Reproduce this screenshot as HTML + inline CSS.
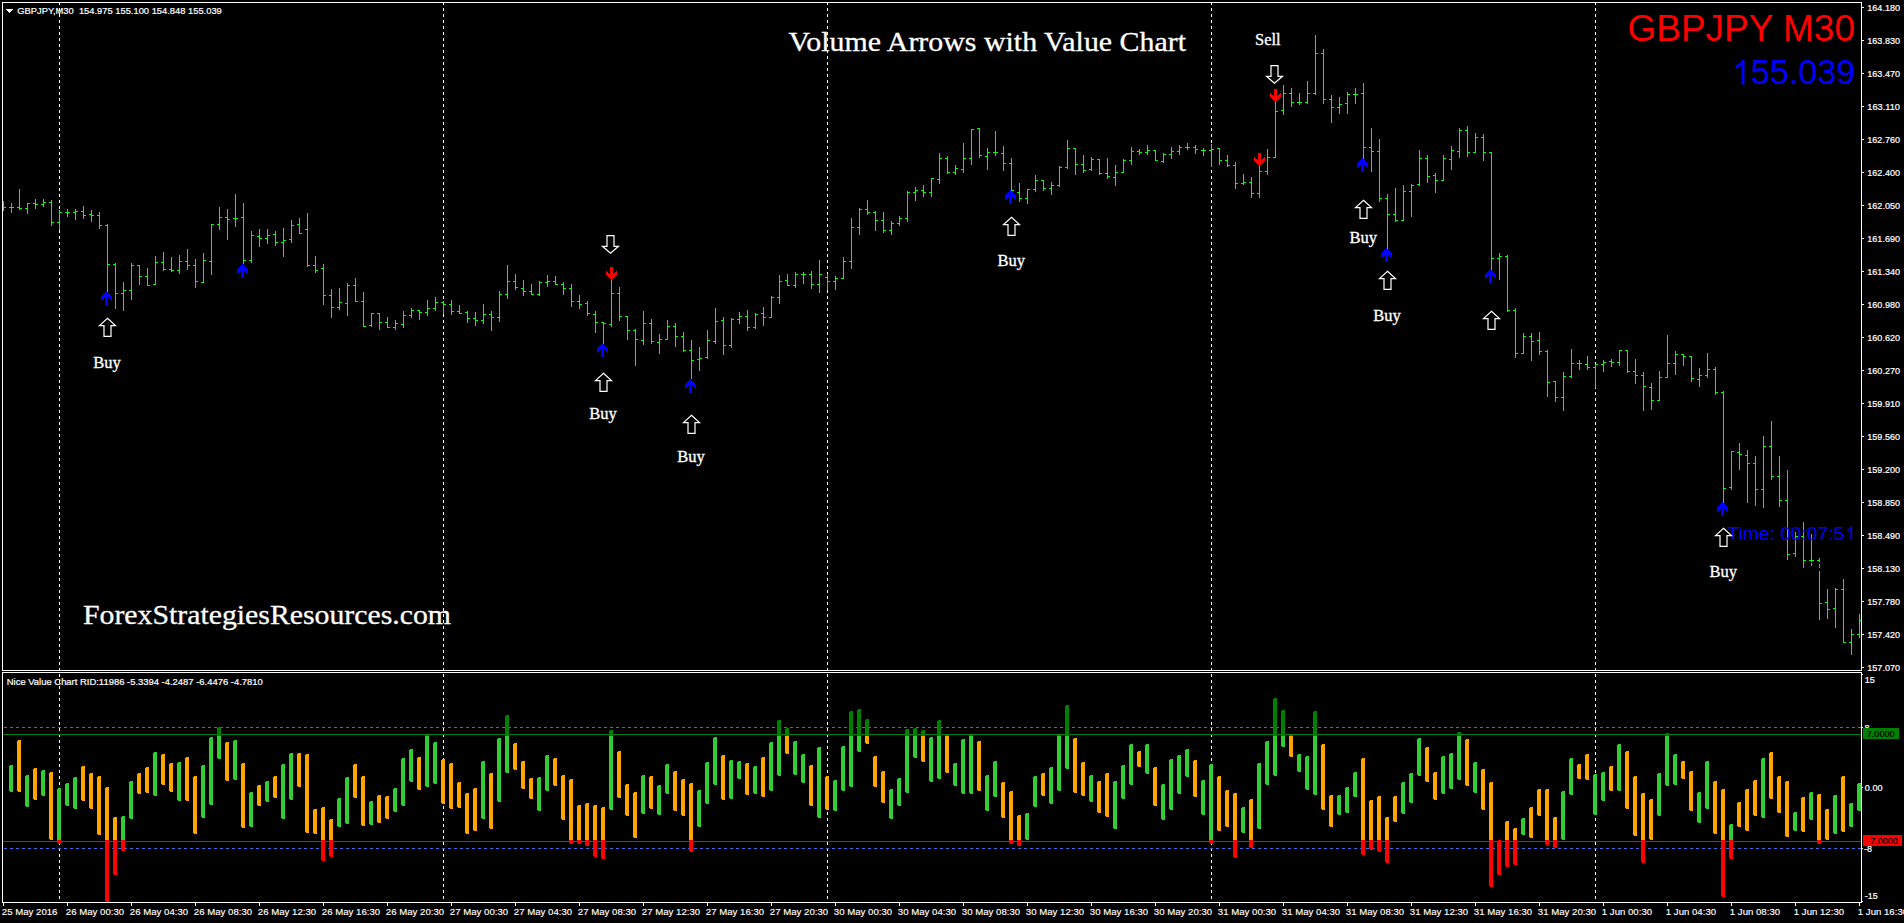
<!DOCTYPE html><html><head><meta charset="utf-8"><title>GBPJPY M30</title><style>
html,body{margin:0;padding:0;background:#000;overflow:hidden}svg{display:block}
text{font-family:"Liberation Sans",sans-serif;fill:#fff}.s{font-family:"Liberation Serif",serif;stroke:#fff;stroke-width:.3px}.t{font-size:9.9px;stroke:#fff;stroke-width:.22px}.k{fill:#000;stroke:#000}
</style></head><body>
<svg width="1904" height="923" viewBox="0 0 1904 923">
<rect width="1904" height="923" fill="#000"/>
<text x="1855" y="41.2" text-anchor="end" font-size="37.8px" style="fill:#f00" textLength="227.5" lengthAdjust="spacingAndGlyphs">GBPJPY M30</text>
<path transform="translate(1731.77 84.4) scale(0.01670 -0.01670)" d="M763 0H583V1147Q518 1085 412.5 1023Q307 961 223 930V1104Q374 1175 487 1276Q600 1377 647 1472H763Z" fill="#00f"/>
<text x="1750.78" y="84.4" font-size="34.2px" style="fill:#00f">55.039</text>
<g shape-rendering="crispEdges">
<path d="M59 2h1v3h-1zM59 8h1v3h-1zM59 14h1v3h-1zM59 20h1v3h-1zM59 26h1v3h-1zM59 32h1v3h-1zM59 38h1v3h-1zM59 44h1v3h-1zM59 50h1v3h-1zM59 56h1v3h-1zM59 62h1v3h-1zM59 68h1v3h-1zM59 74h1v3h-1zM59 80h1v3h-1zM59 86h1v3h-1zM59 92h1v3h-1zM59 98h1v3h-1zM59 104h1v3h-1zM59 110h1v3h-1zM59 116h1v3h-1zM59 122h1v3h-1zM59 128h1v3h-1zM59 134h1v3h-1zM59 140h1v3h-1zM59 146h1v3h-1zM59 152h1v3h-1zM59 158h1v3h-1zM59 164h1v3h-1zM59 170h1v3h-1zM59 176h1v3h-1zM59 182h1v3h-1zM59 188h1v3h-1zM59 194h1v3h-1zM59 200h1v3h-1zM59 206h1v3h-1zM59 212h1v3h-1zM59 218h1v3h-1zM59 224h1v3h-1zM59 230h1v3h-1zM59 236h1v3h-1zM59 242h1v3h-1zM59 248h1v3h-1zM59 254h1v3h-1zM59 260h1v3h-1zM59 266h1v3h-1zM59 272h1v3h-1zM59 278h1v3h-1zM59 284h1v3h-1zM59 290h1v3h-1zM59 296h1v3h-1zM59 302h1v3h-1zM59 308h1v3h-1zM59 314h1v3h-1zM59 320h1v3h-1zM59 326h1v3h-1zM59 332h1v3h-1zM59 338h1v3h-1zM59 344h1v3h-1zM59 350h1v3h-1zM59 356h1v3h-1zM59 362h1v3h-1zM59 368h1v3h-1zM59 374h1v3h-1zM59 380h1v3h-1zM59 386h1v3h-1zM59 392h1v3h-1zM59 398h1v3h-1zM59 404h1v3h-1zM59 410h1v3h-1zM59 416h1v3h-1zM59 422h1v3h-1zM59 428h1v3h-1zM59 434h1v3h-1zM59 440h1v3h-1zM59 446h1v3h-1zM59 452h1v3h-1zM59 458h1v3h-1zM59 464h1v3h-1zM59 470h1v3h-1zM59 476h1v3h-1zM59 482h1v3h-1zM59 488h1v3h-1zM59 494h1v3h-1zM59 500h1v3h-1zM59 506h1v3h-1zM59 512h1v3h-1zM59 518h1v3h-1zM59 524h1v3h-1zM59 530h1v3h-1zM59 536h1v3h-1zM59 542h1v3h-1zM59 548h1v3h-1zM59 554h1v3h-1zM59 560h1v3h-1zM59 566h1v3h-1zM59 572h1v3h-1zM59 578h1v3h-1zM59 584h1v3h-1zM59 590h1v3h-1zM59 596h1v3h-1zM59 602h1v3h-1zM59 608h1v3h-1zM59 614h1v3h-1zM59 620h1v3h-1zM59 626h1v3h-1zM59 632h1v3h-1zM59 638h1v3h-1zM59 644h1v3h-1zM59 650h1v3h-1zM59 656h1v3h-1zM59 662h1v3h-1zM59 668h1v3h-1zM59 674h1v3h-1zM59 680h1v3h-1zM59 686h1v3h-1zM59 692h1v3h-1zM59 698h1v3h-1zM59 704h1v3h-1zM59 710h1v3h-1zM59 716h1v3h-1zM59 722h1v3h-1zM59 728h1v3h-1zM59 734h1v3h-1zM59 740h1v3h-1zM59 746h1v3h-1zM59 752h1v3h-1zM59 758h1v3h-1zM59 764h1v3h-1zM59 770h1v3h-1zM59 776h1v3h-1zM59 782h1v3h-1zM59 788h1v3h-1zM59 794h1v3h-1zM59 800h1v3h-1zM59 806h1v3h-1zM59 812h1v3h-1zM59 818h1v3h-1zM59 824h1v3h-1zM59 830h1v3h-1zM59 836h1v3h-1zM59 842h1v3h-1zM59 848h1v3h-1zM59 854h1v3h-1zM59 860h1v3h-1zM59 866h1v3h-1zM59 872h1v3h-1zM59 878h1v3h-1zM59 884h1v3h-1zM59 890h1v3h-1zM59 896h1v3h-1zM443 2h1v3h-1zM443 8h1v3h-1zM443 14h1v3h-1zM443 20h1v3h-1zM443 26h1v3h-1zM443 32h1v3h-1zM443 38h1v3h-1zM443 44h1v3h-1zM443 50h1v3h-1zM443 56h1v3h-1zM443 62h1v3h-1zM443 68h1v3h-1zM443 74h1v3h-1zM443 80h1v3h-1zM443 86h1v3h-1zM443 92h1v3h-1zM443 98h1v3h-1zM443 104h1v3h-1zM443 110h1v3h-1zM443 116h1v3h-1zM443 122h1v3h-1zM443 128h1v3h-1zM443 134h1v3h-1zM443 140h1v3h-1zM443 146h1v3h-1zM443 152h1v3h-1zM443 158h1v3h-1zM443 164h1v3h-1zM443 170h1v3h-1zM443 176h1v3h-1zM443 182h1v3h-1zM443 188h1v3h-1zM443 194h1v3h-1zM443 200h1v3h-1zM443 206h1v3h-1zM443 212h1v3h-1zM443 218h1v3h-1zM443 224h1v3h-1zM443 230h1v3h-1zM443 236h1v3h-1zM443 242h1v3h-1zM443 248h1v3h-1zM443 254h1v3h-1zM443 260h1v3h-1zM443 266h1v3h-1zM443 272h1v3h-1zM443 278h1v3h-1zM443 284h1v3h-1zM443 290h1v3h-1zM443 296h1v3h-1zM443 302h1v3h-1zM443 308h1v3h-1zM443 314h1v3h-1zM443 320h1v3h-1zM443 326h1v3h-1zM443 332h1v3h-1zM443 338h1v3h-1zM443 344h1v3h-1zM443 350h1v3h-1zM443 356h1v3h-1zM443 362h1v3h-1zM443 368h1v3h-1zM443 374h1v3h-1zM443 380h1v3h-1zM443 386h1v3h-1zM443 392h1v3h-1zM443 398h1v3h-1zM443 404h1v3h-1zM443 410h1v3h-1zM443 416h1v3h-1zM443 422h1v3h-1zM443 428h1v3h-1zM443 434h1v3h-1zM443 440h1v3h-1zM443 446h1v3h-1zM443 452h1v3h-1zM443 458h1v3h-1zM443 464h1v3h-1zM443 470h1v3h-1zM443 476h1v3h-1zM443 482h1v3h-1zM443 488h1v3h-1zM443 494h1v3h-1zM443 500h1v3h-1zM443 506h1v3h-1zM443 512h1v3h-1zM443 518h1v3h-1zM443 524h1v3h-1zM443 530h1v3h-1zM443 536h1v3h-1zM443 542h1v3h-1zM443 548h1v3h-1zM443 554h1v3h-1zM443 560h1v3h-1zM443 566h1v3h-1zM443 572h1v3h-1zM443 578h1v3h-1zM443 584h1v3h-1zM443 590h1v3h-1zM443 596h1v3h-1zM443 602h1v3h-1zM443 608h1v3h-1zM443 614h1v3h-1zM443 620h1v3h-1zM443 626h1v3h-1zM443 632h1v3h-1zM443 638h1v3h-1zM443 644h1v3h-1zM443 650h1v3h-1zM443 656h1v3h-1zM443 662h1v3h-1zM443 668h1v3h-1zM443 674h1v3h-1zM443 680h1v3h-1zM443 686h1v3h-1zM443 692h1v3h-1zM443 698h1v3h-1zM443 704h1v3h-1zM443 710h1v3h-1zM443 716h1v3h-1zM443 722h1v3h-1zM443 728h1v3h-1zM443 734h1v3h-1zM443 740h1v3h-1zM443 746h1v3h-1zM443 752h1v3h-1zM443 758h1v3h-1zM443 764h1v3h-1zM443 770h1v3h-1zM443 776h1v3h-1zM443 782h1v3h-1zM443 788h1v3h-1zM443 794h1v3h-1zM443 800h1v3h-1zM443 806h1v3h-1zM443 812h1v3h-1zM443 818h1v3h-1zM443 824h1v3h-1zM443 830h1v3h-1zM443 836h1v3h-1zM443 842h1v3h-1zM443 848h1v3h-1zM443 854h1v3h-1zM443 860h1v3h-1zM443 866h1v3h-1zM443 872h1v3h-1zM443 878h1v3h-1zM443 884h1v3h-1zM443 890h1v3h-1zM443 896h1v3h-1zM827 2h1v3h-1zM827 8h1v3h-1zM827 14h1v3h-1zM827 20h1v3h-1zM827 26h1v3h-1zM827 32h1v3h-1zM827 38h1v3h-1zM827 44h1v3h-1zM827 50h1v3h-1zM827 56h1v3h-1zM827 62h1v3h-1zM827 68h1v3h-1zM827 74h1v3h-1zM827 80h1v3h-1zM827 86h1v3h-1zM827 92h1v3h-1zM827 98h1v3h-1zM827 104h1v3h-1zM827 110h1v3h-1zM827 116h1v3h-1zM827 122h1v3h-1zM827 128h1v3h-1zM827 134h1v3h-1zM827 140h1v3h-1zM827 146h1v3h-1zM827 152h1v3h-1zM827 158h1v3h-1zM827 164h1v3h-1zM827 170h1v3h-1zM827 176h1v3h-1zM827 182h1v3h-1zM827 188h1v3h-1zM827 194h1v3h-1zM827 200h1v3h-1zM827 206h1v3h-1zM827 212h1v3h-1zM827 218h1v3h-1zM827 224h1v3h-1zM827 230h1v3h-1zM827 236h1v3h-1zM827 242h1v3h-1zM827 248h1v3h-1zM827 254h1v3h-1zM827 260h1v3h-1zM827 266h1v3h-1zM827 272h1v3h-1zM827 278h1v3h-1zM827 284h1v3h-1zM827 290h1v3h-1zM827 296h1v3h-1zM827 302h1v3h-1zM827 308h1v3h-1zM827 314h1v3h-1zM827 320h1v3h-1zM827 326h1v3h-1zM827 332h1v3h-1zM827 338h1v3h-1zM827 344h1v3h-1zM827 350h1v3h-1zM827 356h1v3h-1zM827 362h1v3h-1zM827 368h1v3h-1zM827 374h1v3h-1zM827 380h1v3h-1zM827 386h1v3h-1zM827 392h1v3h-1zM827 398h1v3h-1zM827 404h1v3h-1zM827 410h1v3h-1zM827 416h1v3h-1zM827 422h1v3h-1zM827 428h1v3h-1zM827 434h1v3h-1zM827 440h1v3h-1zM827 446h1v3h-1zM827 452h1v3h-1zM827 458h1v3h-1zM827 464h1v3h-1zM827 470h1v3h-1zM827 476h1v3h-1zM827 482h1v3h-1zM827 488h1v3h-1zM827 494h1v3h-1zM827 500h1v3h-1zM827 506h1v3h-1zM827 512h1v3h-1zM827 518h1v3h-1zM827 524h1v3h-1zM827 530h1v3h-1zM827 536h1v3h-1zM827 542h1v3h-1zM827 548h1v3h-1zM827 554h1v3h-1zM827 560h1v3h-1zM827 566h1v3h-1zM827 572h1v3h-1zM827 578h1v3h-1zM827 584h1v3h-1zM827 590h1v3h-1zM827 596h1v3h-1zM827 602h1v3h-1zM827 608h1v3h-1zM827 614h1v3h-1zM827 620h1v3h-1zM827 626h1v3h-1zM827 632h1v3h-1zM827 638h1v3h-1zM827 644h1v3h-1zM827 650h1v3h-1zM827 656h1v3h-1zM827 662h1v3h-1zM827 668h1v3h-1zM827 674h1v3h-1zM827 680h1v3h-1zM827 686h1v3h-1zM827 692h1v3h-1zM827 698h1v3h-1zM827 704h1v3h-1zM827 710h1v3h-1zM827 716h1v3h-1zM827 722h1v3h-1zM827 728h1v3h-1zM827 734h1v3h-1zM827 740h1v3h-1zM827 746h1v3h-1zM827 752h1v3h-1zM827 758h1v3h-1zM827 764h1v3h-1zM827 770h1v3h-1zM827 776h1v3h-1zM827 782h1v3h-1zM827 788h1v3h-1zM827 794h1v3h-1zM827 800h1v3h-1zM827 806h1v3h-1zM827 812h1v3h-1zM827 818h1v3h-1zM827 824h1v3h-1zM827 830h1v3h-1zM827 836h1v3h-1zM827 842h1v3h-1zM827 848h1v3h-1zM827 854h1v3h-1zM827 860h1v3h-1zM827 866h1v3h-1zM827 872h1v3h-1zM827 878h1v3h-1zM827 884h1v3h-1zM827 890h1v3h-1zM827 896h1v3h-1zM1211 2h1v3h-1zM1211 8h1v3h-1zM1211 14h1v3h-1zM1211 20h1v3h-1zM1211 26h1v3h-1zM1211 32h1v3h-1zM1211 38h1v3h-1zM1211 44h1v3h-1zM1211 50h1v3h-1zM1211 56h1v3h-1zM1211 62h1v3h-1zM1211 68h1v3h-1zM1211 74h1v3h-1zM1211 80h1v3h-1zM1211 86h1v3h-1zM1211 92h1v3h-1zM1211 98h1v3h-1zM1211 104h1v3h-1zM1211 110h1v3h-1zM1211 116h1v3h-1zM1211 122h1v3h-1zM1211 128h1v3h-1zM1211 134h1v3h-1zM1211 140h1v3h-1zM1211 146h1v3h-1zM1211 152h1v3h-1zM1211 158h1v3h-1zM1211 164h1v3h-1zM1211 170h1v3h-1zM1211 176h1v3h-1zM1211 182h1v3h-1zM1211 188h1v3h-1zM1211 194h1v3h-1zM1211 200h1v3h-1zM1211 206h1v3h-1zM1211 212h1v3h-1zM1211 218h1v3h-1zM1211 224h1v3h-1zM1211 230h1v3h-1zM1211 236h1v3h-1zM1211 242h1v3h-1zM1211 248h1v3h-1zM1211 254h1v3h-1zM1211 260h1v3h-1zM1211 266h1v3h-1zM1211 272h1v3h-1zM1211 278h1v3h-1zM1211 284h1v3h-1zM1211 290h1v3h-1zM1211 296h1v3h-1zM1211 302h1v3h-1zM1211 308h1v3h-1zM1211 314h1v3h-1zM1211 320h1v3h-1zM1211 326h1v3h-1zM1211 332h1v3h-1zM1211 338h1v3h-1zM1211 344h1v3h-1zM1211 350h1v3h-1zM1211 356h1v3h-1zM1211 362h1v3h-1zM1211 368h1v3h-1zM1211 374h1v3h-1zM1211 380h1v3h-1zM1211 386h1v3h-1zM1211 392h1v3h-1zM1211 398h1v3h-1zM1211 404h1v3h-1zM1211 410h1v3h-1zM1211 416h1v3h-1zM1211 422h1v3h-1zM1211 428h1v3h-1zM1211 434h1v3h-1zM1211 440h1v3h-1zM1211 446h1v3h-1zM1211 452h1v3h-1zM1211 458h1v3h-1zM1211 464h1v3h-1zM1211 470h1v3h-1zM1211 476h1v3h-1zM1211 482h1v3h-1zM1211 488h1v3h-1zM1211 494h1v3h-1zM1211 500h1v3h-1zM1211 506h1v3h-1zM1211 512h1v3h-1zM1211 518h1v3h-1zM1211 524h1v3h-1zM1211 530h1v3h-1zM1211 536h1v3h-1zM1211 542h1v3h-1zM1211 548h1v3h-1zM1211 554h1v3h-1zM1211 560h1v3h-1zM1211 566h1v3h-1zM1211 572h1v3h-1zM1211 578h1v3h-1zM1211 584h1v3h-1zM1211 590h1v3h-1zM1211 596h1v3h-1zM1211 602h1v3h-1zM1211 608h1v3h-1zM1211 614h1v3h-1zM1211 620h1v3h-1zM1211 626h1v3h-1zM1211 632h1v3h-1zM1211 638h1v3h-1zM1211 644h1v3h-1zM1211 650h1v3h-1zM1211 656h1v3h-1zM1211 662h1v3h-1zM1211 668h1v3h-1zM1211 674h1v3h-1zM1211 680h1v3h-1zM1211 686h1v3h-1zM1211 692h1v3h-1zM1211 698h1v3h-1zM1211 704h1v3h-1zM1211 710h1v3h-1zM1211 716h1v3h-1zM1211 722h1v3h-1zM1211 728h1v3h-1zM1211 734h1v3h-1zM1211 740h1v3h-1zM1211 746h1v3h-1zM1211 752h1v3h-1zM1211 758h1v3h-1zM1211 764h1v3h-1zM1211 770h1v3h-1zM1211 776h1v3h-1zM1211 782h1v3h-1zM1211 788h1v3h-1zM1211 794h1v3h-1zM1211 800h1v3h-1zM1211 806h1v3h-1zM1211 812h1v3h-1zM1211 818h1v3h-1zM1211 824h1v3h-1zM1211 830h1v3h-1zM1211 836h1v3h-1zM1211 842h1v3h-1zM1211 848h1v3h-1zM1211 854h1v3h-1zM1211 860h1v3h-1zM1211 866h1v3h-1zM1211 872h1v3h-1zM1211 878h1v3h-1zM1211 884h1v3h-1zM1211 890h1v3h-1zM1211 896h1v3h-1zM1595 2h1v3h-1zM1595 8h1v3h-1zM1595 14h1v3h-1zM1595 20h1v3h-1zM1595 26h1v3h-1zM1595 32h1v3h-1zM1595 38h1v3h-1zM1595 44h1v3h-1zM1595 50h1v3h-1zM1595 56h1v3h-1zM1595 62h1v3h-1zM1595 68h1v3h-1zM1595 74h1v3h-1zM1595 80h1v3h-1zM1595 86h1v3h-1zM1595 92h1v3h-1zM1595 98h1v3h-1zM1595 104h1v3h-1zM1595 110h1v3h-1zM1595 116h1v3h-1zM1595 122h1v3h-1zM1595 128h1v3h-1zM1595 134h1v3h-1zM1595 140h1v3h-1zM1595 146h1v3h-1zM1595 152h1v3h-1zM1595 158h1v3h-1zM1595 164h1v3h-1zM1595 170h1v3h-1zM1595 176h1v3h-1zM1595 182h1v3h-1zM1595 188h1v3h-1zM1595 194h1v3h-1zM1595 200h1v3h-1zM1595 206h1v3h-1zM1595 212h1v3h-1zM1595 218h1v3h-1zM1595 224h1v3h-1zM1595 230h1v3h-1zM1595 236h1v3h-1zM1595 242h1v3h-1zM1595 248h1v3h-1zM1595 254h1v3h-1zM1595 260h1v3h-1zM1595 266h1v3h-1zM1595 272h1v3h-1zM1595 278h1v3h-1zM1595 284h1v3h-1zM1595 290h1v3h-1zM1595 296h1v3h-1zM1595 302h1v3h-1zM1595 308h1v3h-1zM1595 314h1v3h-1zM1595 320h1v3h-1zM1595 326h1v3h-1zM1595 332h1v3h-1zM1595 338h1v3h-1zM1595 344h1v3h-1zM1595 350h1v3h-1zM1595 356h1v3h-1zM1595 362h1v3h-1zM1595 368h1v3h-1zM1595 374h1v3h-1zM1595 380h1v3h-1zM1595 386h1v3h-1zM1595 392h1v3h-1zM1595 398h1v3h-1zM1595 404h1v3h-1zM1595 410h1v3h-1zM1595 416h1v3h-1zM1595 422h1v3h-1zM1595 428h1v3h-1zM1595 434h1v3h-1zM1595 440h1v3h-1zM1595 446h1v3h-1zM1595 452h1v3h-1zM1595 458h1v3h-1zM1595 464h1v3h-1zM1595 470h1v3h-1zM1595 476h1v3h-1zM1595 482h1v3h-1zM1595 488h1v3h-1zM1595 494h1v3h-1zM1595 500h1v3h-1zM1595 506h1v3h-1zM1595 512h1v3h-1zM1595 518h1v3h-1zM1595 524h1v3h-1zM1595 530h1v3h-1zM1595 536h1v3h-1zM1595 542h1v3h-1zM1595 548h1v3h-1zM1595 554h1v3h-1zM1595 560h1v3h-1zM1595 566h1v3h-1zM1595 572h1v3h-1zM1595 578h1v3h-1zM1595 584h1v3h-1zM1595 590h1v3h-1zM1595 596h1v3h-1zM1595 602h1v3h-1zM1595 608h1v3h-1zM1595 614h1v3h-1zM1595 620h1v3h-1zM1595 626h1v3h-1zM1595 632h1v3h-1zM1595 638h1v3h-1zM1595 644h1v3h-1zM1595 650h1v3h-1zM1595 656h1v3h-1zM1595 662h1v3h-1zM1595 668h1v3h-1zM1595 674h1v3h-1zM1595 680h1v3h-1zM1595 686h1v3h-1zM1595 692h1v3h-1zM1595 698h1v3h-1zM1595 704h1v3h-1zM1595 710h1v3h-1zM1595 716h1v3h-1zM1595 722h1v3h-1zM1595 728h1v3h-1zM1595 734h1v3h-1zM1595 740h1v3h-1zM1595 746h1v3h-1zM1595 752h1v3h-1zM1595 758h1v3h-1zM1595 764h1v3h-1zM1595 770h1v3h-1zM1595 776h1v3h-1zM1595 782h1v3h-1zM1595 788h1v3h-1zM1595 794h1v3h-1zM1595 800h1v3h-1zM1595 806h1v3h-1zM1595 812h1v3h-1zM1595 818h1v3h-1zM1595 824h1v3h-1zM1595 830h1v3h-1zM1595 836h1v3h-1zM1595 842h1v3h-1zM1595 848h1v3h-1zM1595 854h1v3h-1zM1595 860h1v3h-1zM1595 866h1v3h-1zM1595 872h1v3h-1zM1595 878h1v3h-1zM1595 884h1v3h-1zM1595 890h1v3h-1zM1595 896h1v3h-1z" fill="#fff"/>
<path d="M4 727h3v1h-3zM4 848h3v1h-3zM10 727h3v1h-3zM10 848h3v1h-3zM16 727h3v1h-3zM16 848h3v1h-3zM22 727h3v1h-3zM22 848h3v1h-3zM28 727h3v1h-3zM28 848h3v1h-3zM34 727h3v1h-3zM34 848h3v1h-3zM40 727h3v1h-3zM40 848h3v1h-3zM46 727h3v1h-3zM46 848h3v1h-3zM52 727h3v1h-3zM52 848h3v1h-3zM58 727h3v1h-3zM58 848h3v1h-3zM64 727h3v1h-3zM64 848h3v1h-3zM70 727h3v1h-3zM70 848h3v1h-3zM76 727h3v1h-3zM76 848h3v1h-3zM82 727h3v1h-3zM82 848h3v1h-3zM88 727h3v1h-3zM88 848h3v1h-3zM94 727h3v1h-3zM94 848h3v1h-3zM100 727h3v1h-3zM100 848h3v1h-3zM106 727h3v1h-3zM106 848h3v1h-3zM112 727h3v1h-3zM112 848h3v1h-3zM118 727h3v1h-3zM118 848h3v1h-3zM124 727h3v1h-3zM124 848h3v1h-3zM130 727h3v1h-3zM130 848h3v1h-3zM136 727h3v1h-3zM136 848h3v1h-3zM142 727h3v1h-3zM142 848h3v1h-3zM148 727h3v1h-3zM148 848h3v1h-3zM154 727h3v1h-3zM154 848h3v1h-3zM160 727h3v1h-3zM160 848h3v1h-3zM166 727h3v1h-3zM166 848h3v1h-3zM172 727h3v1h-3zM172 848h3v1h-3zM178 727h3v1h-3zM178 848h3v1h-3zM184 727h3v1h-3zM184 848h3v1h-3zM190 727h3v1h-3zM190 848h3v1h-3zM196 727h3v1h-3zM196 848h3v1h-3zM202 727h3v1h-3zM202 848h3v1h-3zM208 727h3v1h-3zM208 848h3v1h-3zM214 727h3v1h-3zM214 848h3v1h-3zM220 727h3v1h-3zM220 848h3v1h-3zM226 727h3v1h-3zM226 848h3v1h-3zM232 727h3v1h-3zM232 848h3v1h-3zM238 727h3v1h-3zM238 848h3v1h-3zM244 727h3v1h-3zM244 848h3v1h-3zM250 727h3v1h-3zM250 848h3v1h-3zM256 727h3v1h-3zM256 848h3v1h-3zM262 727h3v1h-3zM262 848h3v1h-3zM268 727h3v1h-3zM268 848h3v1h-3zM274 727h3v1h-3zM274 848h3v1h-3zM280 727h3v1h-3zM280 848h3v1h-3zM286 727h3v1h-3zM286 848h3v1h-3zM292 727h3v1h-3zM292 848h3v1h-3zM298 727h3v1h-3zM298 848h3v1h-3zM304 727h3v1h-3zM304 848h3v1h-3zM310 727h3v1h-3zM310 848h3v1h-3zM316 727h3v1h-3zM316 848h3v1h-3zM322 727h3v1h-3zM322 848h3v1h-3zM328 727h3v1h-3zM328 848h3v1h-3zM334 727h3v1h-3zM334 848h3v1h-3zM340 727h3v1h-3zM340 848h3v1h-3zM346 727h3v1h-3zM346 848h3v1h-3zM352 727h3v1h-3zM352 848h3v1h-3zM358 727h3v1h-3zM358 848h3v1h-3zM364 727h3v1h-3zM364 848h3v1h-3zM370 727h3v1h-3zM370 848h3v1h-3zM376 727h3v1h-3zM376 848h3v1h-3zM382 727h3v1h-3zM382 848h3v1h-3zM388 727h3v1h-3zM388 848h3v1h-3zM394 727h3v1h-3zM394 848h3v1h-3zM400 727h3v1h-3zM400 848h3v1h-3zM406 727h3v1h-3zM406 848h3v1h-3zM412 727h3v1h-3zM412 848h3v1h-3zM418 727h3v1h-3zM418 848h3v1h-3zM424 727h3v1h-3zM424 848h3v1h-3zM430 727h3v1h-3zM430 848h3v1h-3zM436 727h3v1h-3zM436 848h3v1h-3zM442 727h3v1h-3zM442 848h3v1h-3zM448 727h3v1h-3zM448 848h3v1h-3zM454 727h3v1h-3zM454 848h3v1h-3zM460 727h3v1h-3zM460 848h3v1h-3zM466 727h3v1h-3zM466 848h3v1h-3zM472 727h3v1h-3zM472 848h3v1h-3zM478 727h3v1h-3zM478 848h3v1h-3zM484 727h3v1h-3zM484 848h3v1h-3zM490 727h3v1h-3zM490 848h3v1h-3zM496 727h3v1h-3zM496 848h3v1h-3zM502 727h3v1h-3zM502 848h3v1h-3zM508 727h3v1h-3zM508 848h3v1h-3zM514 727h3v1h-3zM514 848h3v1h-3zM520 727h3v1h-3zM520 848h3v1h-3zM526 727h3v1h-3zM526 848h3v1h-3zM532 727h3v1h-3zM532 848h3v1h-3zM538 727h3v1h-3zM538 848h3v1h-3zM544 727h3v1h-3zM544 848h3v1h-3zM550 727h3v1h-3zM550 848h3v1h-3zM556 727h3v1h-3zM556 848h3v1h-3zM562 727h3v1h-3zM562 848h3v1h-3zM568 727h3v1h-3zM568 848h3v1h-3zM574 727h3v1h-3zM574 848h3v1h-3zM580 727h3v1h-3zM580 848h3v1h-3zM586 727h3v1h-3zM586 848h3v1h-3zM592 727h3v1h-3zM592 848h3v1h-3zM598 727h3v1h-3zM598 848h3v1h-3zM604 727h3v1h-3zM604 848h3v1h-3zM610 727h3v1h-3zM610 848h3v1h-3zM616 727h3v1h-3zM616 848h3v1h-3zM622 727h3v1h-3zM622 848h3v1h-3zM628 727h3v1h-3zM628 848h3v1h-3zM634 727h3v1h-3zM634 848h3v1h-3zM640 727h3v1h-3zM640 848h3v1h-3zM646 727h3v1h-3zM646 848h3v1h-3zM652 727h3v1h-3zM652 848h3v1h-3zM658 727h3v1h-3zM658 848h3v1h-3zM664 727h3v1h-3zM664 848h3v1h-3zM670 727h3v1h-3zM670 848h3v1h-3zM676 727h3v1h-3zM676 848h3v1h-3zM682 727h3v1h-3zM682 848h3v1h-3zM688 727h3v1h-3zM688 848h3v1h-3zM694 727h3v1h-3zM694 848h3v1h-3zM700 727h3v1h-3zM700 848h3v1h-3zM706 727h3v1h-3zM706 848h3v1h-3zM712 727h3v1h-3zM712 848h3v1h-3zM718 727h3v1h-3zM718 848h3v1h-3zM724 727h3v1h-3zM724 848h3v1h-3zM730 727h3v1h-3zM730 848h3v1h-3zM736 727h3v1h-3zM736 848h3v1h-3zM742 727h3v1h-3zM742 848h3v1h-3zM748 727h3v1h-3zM748 848h3v1h-3zM754 727h3v1h-3zM754 848h3v1h-3zM760 727h3v1h-3zM760 848h3v1h-3zM766 727h3v1h-3zM766 848h3v1h-3zM772 727h3v1h-3zM772 848h3v1h-3zM778 727h3v1h-3zM778 848h3v1h-3zM784 727h3v1h-3zM784 848h3v1h-3zM790 727h3v1h-3zM790 848h3v1h-3zM796 727h3v1h-3zM796 848h3v1h-3zM802 727h3v1h-3zM802 848h3v1h-3zM808 727h3v1h-3zM808 848h3v1h-3zM814 727h3v1h-3zM814 848h3v1h-3zM820 727h3v1h-3zM820 848h3v1h-3zM826 727h3v1h-3zM826 848h3v1h-3zM832 727h3v1h-3zM832 848h3v1h-3zM838 727h3v1h-3zM838 848h3v1h-3zM844 727h3v1h-3zM844 848h3v1h-3zM850 727h3v1h-3zM850 848h3v1h-3zM856 727h3v1h-3zM856 848h3v1h-3zM862 727h3v1h-3zM862 848h3v1h-3zM868 727h3v1h-3zM868 848h3v1h-3zM874 727h3v1h-3zM874 848h3v1h-3zM880 727h3v1h-3zM880 848h3v1h-3zM886 727h3v1h-3zM886 848h3v1h-3zM892 727h3v1h-3zM892 848h3v1h-3zM898 727h3v1h-3zM898 848h3v1h-3zM904 727h3v1h-3zM904 848h3v1h-3zM910 727h3v1h-3zM910 848h3v1h-3zM916 727h3v1h-3zM916 848h3v1h-3zM922 727h3v1h-3zM922 848h3v1h-3zM928 727h3v1h-3zM928 848h3v1h-3zM934 727h3v1h-3zM934 848h3v1h-3zM940 727h3v1h-3zM940 848h3v1h-3zM946 727h3v1h-3zM946 848h3v1h-3zM952 727h3v1h-3zM952 848h3v1h-3zM958 727h3v1h-3zM958 848h3v1h-3zM964 727h3v1h-3zM964 848h3v1h-3zM970 727h3v1h-3zM970 848h3v1h-3zM976 727h3v1h-3zM976 848h3v1h-3zM982 727h3v1h-3zM982 848h3v1h-3zM988 727h3v1h-3zM988 848h3v1h-3zM994 727h3v1h-3zM994 848h3v1h-3zM1000 727h3v1h-3zM1000 848h3v1h-3zM1006 727h3v1h-3zM1006 848h3v1h-3zM1012 727h3v1h-3zM1012 848h3v1h-3zM1018 727h3v1h-3zM1018 848h3v1h-3zM1024 727h3v1h-3zM1024 848h3v1h-3zM1030 727h3v1h-3zM1030 848h3v1h-3zM1036 727h3v1h-3zM1036 848h3v1h-3zM1042 727h3v1h-3zM1042 848h3v1h-3zM1048 727h3v1h-3zM1048 848h3v1h-3zM1054 727h3v1h-3zM1054 848h3v1h-3zM1060 727h3v1h-3zM1060 848h3v1h-3zM1066 727h3v1h-3zM1066 848h3v1h-3zM1072 727h3v1h-3zM1072 848h3v1h-3zM1078 727h3v1h-3zM1078 848h3v1h-3zM1084 727h3v1h-3zM1084 848h3v1h-3zM1090 727h3v1h-3zM1090 848h3v1h-3zM1096 727h3v1h-3zM1096 848h3v1h-3zM1102 727h3v1h-3zM1102 848h3v1h-3zM1108 727h3v1h-3zM1108 848h3v1h-3zM1114 727h3v1h-3zM1114 848h3v1h-3zM1120 727h3v1h-3zM1120 848h3v1h-3zM1126 727h3v1h-3zM1126 848h3v1h-3zM1132 727h3v1h-3zM1132 848h3v1h-3zM1138 727h3v1h-3zM1138 848h3v1h-3zM1144 727h3v1h-3zM1144 848h3v1h-3zM1150 727h3v1h-3zM1150 848h3v1h-3zM1156 727h3v1h-3zM1156 848h3v1h-3zM1162 727h3v1h-3zM1162 848h3v1h-3zM1168 727h3v1h-3zM1168 848h3v1h-3zM1174 727h3v1h-3zM1174 848h3v1h-3zM1180 727h3v1h-3zM1180 848h3v1h-3zM1186 727h3v1h-3zM1186 848h3v1h-3zM1192 727h3v1h-3zM1192 848h3v1h-3zM1198 727h3v1h-3zM1198 848h3v1h-3zM1204 727h3v1h-3zM1204 848h3v1h-3zM1210 727h3v1h-3zM1210 848h3v1h-3zM1216 727h3v1h-3zM1216 848h3v1h-3zM1222 727h3v1h-3zM1222 848h3v1h-3zM1228 727h3v1h-3zM1228 848h3v1h-3zM1234 727h3v1h-3zM1234 848h3v1h-3zM1240 727h3v1h-3zM1240 848h3v1h-3zM1246 727h3v1h-3zM1246 848h3v1h-3zM1252 727h3v1h-3zM1252 848h3v1h-3zM1258 727h3v1h-3zM1258 848h3v1h-3zM1264 727h3v1h-3zM1264 848h3v1h-3zM1270 727h3v1h-3zM1270 848h3v1h-3zM1276 727h3v1h-3zM1276 848h3v1h-3zM1282 727h3v1h-3zM1282 848h3v1h-3zM1288 727h3v1h-3zM1288 848h3v1h-3zM1294 727h3v1h-3zM1294 848h3v1h-3zM1300 727h3v1h-3zM1300 848h3v1h-3zM1306 727h3v1h-3zM1306 848h3v1h-3zM1312 727h3v1h-3zM1312 848h3v1h-3zM1318 727h3v1h-3zM1318 848h3v1h-3zM1324 727h3v1h-3zM1324 848h3v1h-3zM1330 727h3v1h-3zM1330 848h3v1h-3zM1336 727h3v1h-3zM1336 848h3v1h-3zM1342 727h3v1h-3zM1342 848h3v1h-3zM1348 727h3v1h-3zM1348 848h3v1h-3zM1354 727h3v1h-3zM1354 848h3v1h-3zM1360 727h3v1h-3zM1360 848h3v1h-3zM1366 727h3v1h-3zM1366 848h3v1h-3zM1372 727h3v1h-3zM1372 848h3v1h-3zM1378 727h3v1h-3zM1378 848h3v1h-3zM1384 727h3v1h-3zM1384 848h3v1h-3zM1390 727h3v1h-3zM1390 848h3v1h-3zM1396 727h3v1h-3zM1396 848h3v1h-3zM1402 727h3v1h-3zM1402 848h3v1h-3zM1408 727h3v1h-3zM1408 848h3v1h-3zM1414 727h3v1h-3zM1414 848h3v1h-3zM1420 727h3v1h-3zM1420 848h3v1h-3zM1426 727h3v1h-3zM1426 848h3v1h-3zM1432 727h3v1h-3zM1432 848h3v1h-3zM1438 727h3v1h-3zM1438 848h3v1h-3zM1444 727h3v1h-3zM1444 848h3v1h-3zM1450 727h3v1h-3zM1450 848h3v1h-3zM1456 727h3v1h-3zM1456 848h3v1h-3zM1462 727h3v1h-3zM1462 848h3v1h-3zM1468 727h3v1h-3zM1468 848h3v1h-3zM1474 727h3v1h-3zM1474 848h3v1h-3zM1480 727h3v1h-3zM1480 848h3v1h-3zM1486 727h3v1h-3zM1486 848h3v1h-3zM1492 727h3v1h-3zM1492 848h3v1h-3zM1498 727h3v1h-3zM1498 848h3v1h-3zM1504 727h3v1h-3zM1504 848h3v1h-3zM1510 727h3v1h-3zM1510 848h3v1h-3zM1516 727h3v1h-3zM1516 848h3v1h-3zM1522 727h3v1h-3zM1522 848h3v1h-3zM1528 727h3v1h-3zM1528 848h3v1h-3zM1534 727h3v1h-3zM1534 848h3v1h-3zM1540 727h3v1h-3zM1540 848h3v1h-3zM1546 727h3v1h-3zM1546 848h3v1h-3zM1552 727h3v1h-3zM1552 848h3v1h-3zM1558 727h3v1h-3zM1558 848h3v1h-3zM1564 727h3v1h-3zM1564 848h3v1h-3zM1570 727h3v1h-3zM1570 848h3v1h-3zM1576 727h3v1h-3zM1576 848h3v1h-3zM1582 727h3v1h-3zM1582 848h3v1h-3zM1588 727h3v1h-3zM1588 848h3v1h-3zM1594 727h3v1h-3zM1594 848h3v1h-3zM1600 727h3v1h-3zM1600 848h3v1h-3zM1606 727h3v1h-3zM1606 848h3v1h-3zM1612 727h3v1h-3zM1612 848h3v1h-3zM1618 727h3v1h-3zM1618 848h3v1h-3zM1624 727h3v1h-3zM1624 848h3v1h-3zM1630 727h3v1h-3zM1630 848h3v1h-3zM1636 727h3v1h-3zM1636 848h3v1h-3zM1642 727h3v1h-3zM1642 848h3v1h-3zM1648 727h3v1h-3zM1648 848h3v1h-3zM1654 727h3v1h-3zM1654 848h3v1h-3zM1660 727h3v1h-3zM1660 848h3v1h-3zM1666 727h3v1h-3zM1666 848h3v1h-3zM1672 727h3v1h-3zM1672 848h3v1h-3zM1678 727h3v1h-3zM1678 848h3v1h-3zM1684 727h3v1h-3zM1684 848h3v1h-3zM1690 727h3v1h-3zM1690 848h3v1h-3zM1696 727h3v1h-3zM1696 848h3v1h-3zM1702 727h3v1h-3zM1702 848h3v1h-3zM1708 727h3v1h-3zM1708 848h3v1h-3zM1714 727h3v1h-3zM1714 848h3v1h-3zM1720 727h3v1h-3zM1720 848h3v1h-3zM1726 727h3v1h-3zM1726 848h3v1h-3zM1732 727h3v1h-3zM1732 848h3v1h-3zM1738 727h3v1h-3zM1738 848h3v1h-3zM1744 727h3v1h-3zM1744 848h3v1h-3zM1750 727h3v1h-3zM1750 848h3v1h-3zM1756 727h3v1h-3zM1756 848h3v1h-3zM1762 727h3v1h-3zM1762 848h3v1h-3zM1768 727h3v1h-3zM1768 848h3v1h-3zM1774 727h3v1h-3zM1774 848h3v1h-3zM1780 727h3v1h-3zM1780 848h3v1h-3zM1786 727h3v1h-3zM1786 848h3v1h-3zM1792 727h3v1h-3zM1792 848h3v1h-3zM1798 727h3v1h-3zM1798 848h3v1h-3zM1804 727h3v1h-3zM1804 848h3v1h-3zM1810 727h3v1h-3zM1810 848h3v1h-3zM1816 727h3v1h-3zM1816 848h3v1h-3zM1822 727h3v1h-3zM1822 848h3v1h-3zM1828 727h3v1h-3zM1828 848h3v1h-3zM1834 727h3v1h-3zM1834 848h3v1h-3zM1840 727h3v1h-3zM1840 848h3v1h-3zM1846 727h3v1h-3zM1846 848h3v1h-3zM1852 727h3v1h-3zM1852 848h3v1h-3zM1858 727h3v1h-3zM1858 848h3v1h-3z" fill="#4169e1"/>
<path d="M3 734h1858v1h-1858z" fill="#008000"/>
<path d="M3 841h1858v1h-1858z" fill="#f00"/>
<path d="M10 765h3v1h-3zM10 791h3v1h-3zM9 766h4v25h-4zM26 775h3v1h-3zM26 806h3v1h-3zM25 776h4v30h-4zM42 770h3v1h-3zM42 795h3v1h-3zM41 771h4v24h-4zM58 788h3v1h-3zM57 789h4v51h-4zM66 783h3v1h-3zM66 805h3v1h-3zM65 784h4v21h-4zM74 777h3v1h-3zM74 808h3v1h-3zM73 778h4v30h-4zM122 816h3v1h-3zM121 817h4v23h-4zM130 781h3v1h-3zM130 818h3v1h-3zM129 782h4v36h-4zM154 752h3v1h-3zM154 795h3v1h-3zM153 753h4v42h-4zM178 762h3v1h-3zM178 800h3v1h-3zM177 763h4v37h-4zM202 765h3v1h-3zM202 817h3v1h-3zM201 766h4v51h-4zM210 737h3v1h-3zM210 804h3v1h-3zM209 738h4v66h-4zM218 758h3v1h-3zM217 736h4v22h-4zM234 740h3v1h-3zM234 779h3v1h-3zM233 741h4v38h-4zM250 792h3v1h-3zM250 826h3v1h-3zM249 793h4v33h-4zM266 781h3v1h-3zM266 801h3v1h-3zM265 782h4v19h-4zM282 764h3v1h-3zM282 818h3v1h-3zM281 765h4v53h-4zM290 753h3v1h-3zM290 799h3v1h-3zM289 754h4v45h-4zM338 798h3v1h-3zM338 826h3v1h-3zM337 799h4v27h-4zM346 777h3v1h-3zM346 823h3v1h-3zM345 778h4v45h-4zM370 801h3v1h-3zM370 824h3v1h-3zM369 802h4v22h-4zM394 788h3v1h-3zM394 811h3v1h-3zM393 789h4v22h-4zM402 758h3v1h-3zM402 805h3v1h-3zM401 759h4v46h-4zM410 749h3v1h-3zM410 781h3v1h-3zM409 750h4v31h-4zM426 786h3v1h-3zM425 736h4v50h-4zM434 742h3v1h-3zM434 783h3v1h-3zM433 743h4v40h-4zM482 761h3v1h-3zM482 818h3v1h-3zM481 762h4v56h-4zM498 738h3v1h-3zM498 801h3v1h-3zM497 739h4v62h-4zM506 772h3v1h-3zM505 736h4v36h-4zM538 777h3v1h-3zM538 810h3v1h-3zM537 778h4v32h-4zM546 755h3v1h-3zM546 790h3v1h-3zM545 756h4v34h-4zM610 809h3v1h-3zM609 736h4v73h-4zM642 775h3v1h-3zM642 813h3v1h-3zM641 776h4v37h-4zM658 785h3v1h-3zM658 814h3v1h-3zM657 786h4v28h-4zM666 764h3v1h-3zM666 793h3v1h-3zM665 765h4v28h-4zM698 790h3v1h-3zM698 826h3v1h-3zM697 791h4v35h-4zM706 762h3v1h-3zM706 803h3v1h-3zM705 763h4v40h-4zM714 737h3v1h-3zM714 784h3v1h-3zM713 738h4v46h-4zM730 760h3v1h-3zM730 798h3v1h-3zM729 761h4v37h-4zM738 761h3v1h-3zM738 778h3v1h-3zM737 762h4v16h-4zM754 766h3v1h-3zM754 793h3v1h-3zM753 767h4v26h-4zM770 742h3v1h-3zM770 790h3v1h-3zM769 743h4v47h-4zM778 775h3v1h-3zM777 736h4v39h-4zM794 741h3v1h-3zM794 774h3v1h-3zM793 742h4v32h-4zM802 754h3v1h-3zM802 782h3v1h-3zM801 755h4v27h-4zM818 747h3v1h-3zM818 817h3v1h-3zM817 748h4v69h-4zM834 780h3v1h-3zM834 810h3v1h-3zM833 781h4v29h-4zM842 746h3v1h-3zM842 790h3v1h-3zM841 747h4v43h-4zM850 786h3v1h-3zM849 736h4v50h-4zM858 751h3v1h-3zM857 736h4v15h-4zM890 789h3v1h-3zM890 818h3v1h-3zM889 790h4v28h-4zM898 778h3v1h-3zM898 805h3v1h-3zM897 779h4v26h-4zM906 792h3v1h-3zM905 736h4v56h-4zM914 757h3v1h-3zM913 736h4v21h-4zM930 737h3v1h-3zM930 781h3v1h-3zM929 738h4v43h-4zM938 778h3v1h-3zM937 736h4v42h-4zM954 763h3v1h-3zM954 785h3v1h-3zM953 764h4v21h-4zM962 739h3v1h-3zM962 793h3v1h-3zM961 740h4v53h-4zM970 793h3v1h-3zM969 736h4v57h-4zM986 775h3v1h-3zM986 810h3v1h-3zM985 776h4v34h-4zM994 761h3v1h-3zM994 796h3v1h-3zM993 762h4v34h-4zM1026 813h3v1h-3zM1026 839h3v1h-3zM1025 814h4v25h-4zM1034 776h3v1h-3zM1034 806h3v1h-3zM1033 777h4v29h-4zM1050 767h3v1h-3zM1050 803h3v1h-3zM1049 768h4v35h-4zM1058 790h3v1h-3zM1057 736h4v54h-4zM1066 768h3v1h-3zM1065 736h4v32h-4zM1090 775h3v1h-3zM1090 801h3v1h-3zM1089 776h4v25h-4zM1114 781h3v1h-3zM1114 828h3v1h-3zM1113 782h4v46h-4zM1122 765h3v1h-3zM1122 798h3v1h-3zM1121 766h4v32h-4zM1130 744h3v1h-3zM1130 784h3v1h-3zM1129 745h4v39h-4zM1146 744h3v1h-3zM1146 773h3v1h-3zM1145 745h4v28h-4zM1162 784h3v1h-3zM1162 819h3v1h-3zM1161 785h4v34h-4zM1170 759h3v1h-3zM1170 809h3v1h-3zM1169 760h4v49h-4zM1178 755h3v1h-3zM1178 793h3v1h-3zM1177 756h4v37h-4zM1186 749h3v1h-3zM1186 776h3v1h-3zM1185 750h4v26h-4zM1202 780h3v1h-3zM1202 814h3v1h-3zM1201 781h4v33h-4zM1210 764h3v1h-3zM1209 765h4v75h-4zM1242 807h3v1h-3zM1242 832h3v1h-3zM1241 808h4v24h-4zM1258 763h3v1h-3zM1258 828h3v1h-3zM1257 764h4v64h-4zM1266 741h3v1h-3zM1266 784h3v1h-3zM1265 742h4v42h-4zM1274 775h3v1h-3zM1273 736h4v39h-4zM1282 746h3v1h-3zM1281 736h4v10h-4zM1298 754h3v1h-3zM1298 771h3v1h-3zM1297 755h4v16h-4zM1306 756h3v1h-3zM1306 789h3v1h-3zM1305 757h4v32h-4zM1314 794h3v1h-3zM1313 736h4v58h-4zM1338 795h3v1h-3zM1338 814h3v1h-3zM1337 796h4v18h-4zM1346 787h3v1h-3zM1346 812h3v1h-3zM1345 788h4v24h-4zM1354 772h3v1h-3zM1354 796h3v1h-3zM1353 773h4v23h-4zM1402 782h3v1h-3zM1402 813h3v1h-3zM1401 783h4v30h-4zM1410 773h3v1h-3zM1410 802h3v1h-3zM1409 774h4v28h-4zM1418 738h3v1h-3zM1418 775h3v1h-3zM1417 739h4v36h-4zM1442 756h3v1h-3zM1442 793h3v1h-3zM1441 757h4v36h-4zM1450 753h3v1h-3zM1450 788h3v1h-3zM1449 754h4v34h-4zM1458 779h3v1h-3zM1457 736h4v43h-4zM1474 762h3v1h-3zM1474 792h3v1h-3zM1473 763h4v29h-4zM1522 818h3v1h-3zM1522 834h3v1h-3zM1521 819h4v15h-4zM1562 791h3v1h-3zM1562 839h3v1h-3zM1561 792h4v47h-4zM1570 758h3v1h-3zM1570 794h3v1h-3zM1569 759h4v35h-4zM1594 774h3v1h-3zM1594 814h3v1h-3zM1593 775h4v39h-4zM1602 772h3v1h-3zM1602 800h3v1h-3zM1601 773h4v27h-4zM1618 744h3v1h-3zM1618 790h3v1h-3zM1617 745h4v45h-4zM1658 773h3v1h-3zM1658 815h3v1h-3zM1657 774h4v41h-4zM1666 785h3v1h-3zM1665 736h4v49h-4zM1674 754h3v1h-3zM1674 784h3v1h-3zM1673 755h4v29h-4zM1698 792h3v1h-3zM1698 822h3v1h-3zM1697 793h4v29h-4zM1706 761h3v1h-3zM1706 808h3v1h-3zM1705 762h4v46h-4zM1730 824h3v1h-3zM1729 825h4v15h-4zM1762 758h3v1h-3zM1762 817h3v1h-3zM1761 759h4v58h-4zM1794 812h3v1h-3zM1794 830h3v1h-3zM1793 813h4v17h-4zM1810 792h3v1h-3zM1810 819h3v1h-3zM1809 793h4v26h-4zM1834 795h3v1h-3zM1834 833h3v1h-3zM1833 796h4v37h-4zM1850 803h3v1h-3zM1850 826h3v1h-3zM1849 804h4v22h-4zM1858 783h3v1h-3zM1858 810h3v1h-3zM1857 784h4v26h-4z" fill="#32cd32"/>
<path d="M18 740h3v1h-3zM18 791h3v1h-3zM17 741h4v50h-4zM34 768h3v1h-3zM34 799h3v1h-3zM33 769h4v30h-4zM50 772h3v1h-3zM50 839h3v1h-3zM49 773h4v66h-4zM82 766h3v1h-3zM82 800h3v1h-3zM81 767h4v33h-4zM90 773h3v1h-3zM90 808h3v1h-3zM89 774h4v34h-4zM98 776h3v1h-3zM98 834h3v1h-3zM97 777h4v57h-4zM106 787h3v1h-3zM105 788h4v52h-4zM114 817h3v1h-3zM113 818h4v22h-4zM138 773h3v1h-3zM138 793h3v1h-3zM137 774h4v19h-4zM146 767h3v1h-3zM146 792h3v1h-3zM145 768h4v24h-4zM162 754h3v1h-3zM162 784h3v1h-3zM161 755h4v29h-4zM170 763h3v1h-3zM170 791h3v1h-3zM169 764h4v27h-4zM186 757h3v1h-3zM186 800h3v1h-3zM185 758h4v42h-4zM194 776h3v1h-3zM194 833h3v1h-3zM193 777h4v56h-4zM226 742h3v1h-3zM226 780h3v1h-3zM225 743h4v37h-4zM242 763h3v1h-3zM242 827h3v1h-3zM241 764h4v63h-4zM258 785h3v1h-3zM258 805h3v1h-3zM257 786h4v19h-4zM274 776h3v1h-3zM274 797h3v1h-3zM273 777h4v20h-4zM298 753h3v1h-3zM298 786h3v1h-3zM297 754h4v32h-4zM306 754h3v1h-3zM306 832h3v1h-3zM305 755h4v77h-4zM314 809h3v1h-3zM314 833h3v1h-3zM313 810h4v23h-4zM322 807h3v1h-3zM321 808h4v32h-4zM330 819h3v1h-3zM329 820h4v20h-4zM354 764h3v1h-3zM354 797h3v1h-3zM353 765h4v32h-4zM362 776h3v1h-3zM362 825h3v1h-3zM361 777h4v48h-4zM378 795h3v1h-3zM378 822h3v1h-3zM377 796h4v26h-4zM386 796h3v1h-3zM386 818h3v1h-3zM385 797h4v21h-4zM418 757h3v1h-3zM418 789h3v1h-3zM417 758h4v31h-4zM442 759h3v1h-3zM442 803h3v1h-3zM441 760h4v43h-4zM450 763h3v1h-3zM450 808h3v1h-3zM449 764h4v44h-4zM458 782h3v1h-3zM458 807h3v1h-3zM457 783h4v24h-4zM466 793h3v1h-3zM466 833h3v1h-3zM465 794h4v39h-4zM474 788h3v1h-3zM474 830h3v1h-3zM473 789h4v41h-4zM490 773h3v1h-3zM490 828h3v1h-3zM489 774h4v54h-4zM514 743h3v1h-3zM514 769h3v1h-3zM513 744h4v25h-4zM522 761h3v1h-3zM522 788h3v1h-3zM521 762h4v26h-4zM530 778h3v1h-3zM530 798h3v1h-3zM529 779h4v19h-4zM554 758h3v1h-3zM554 785h3v1h-3zM553 759h4v26h-4zM562 775h3v1h-3zM562 819h3v1h-3zM561 776h4v43h-4zM570 779h3v1h-3zM569 780h4v60h-4zM578 805h3v1h-3zM577 806h4v34h-4zM586 803h3v1h-3zM585 804h4v36h-4zM594 805h3v1h-3zM593 806h4v34h-4zM602 807h3v1h-3zM601 808h4v32h-4zM618 751h3v1h-3zM618 797h3v1h-3zM617 752h4v45h-4zM626 784h3v1h-3zM626 815h3v1h-3zM625 785h4v30h-4zM634 792h3v1h-3zM634 837h3v1h-3zM633 793h4v44h-4zM650 776h3v1h-3zM650 808h3v1h-3zM649 777h4v31h-4zM674 771h3v1h-3zM674 810h3v1h-3zM673 772h4v38h-4zM682 779h3v1h-3zM682 815h3v1h-3zM681 780h4v35h-4zM690 783h3v1h-3zM689 784h4v56h-4zM722 755h3v1h-3zM722 799h3v1h-3zM721 756h4v43h-4zM746 763h3v1h-3zM746 794h3v1h-3zM745 764h4v30h-4zM762 757h3v1h-3zM762 796h3v1h-3zM761 758h4v38h-4zM786 753h3v1h-3zM785 736h4v17h-4zM810 765h3v1h-3zM810 805h3v1h-3zM809 766h4v39h-4zM826 776h3v1h-3zM826 809h3v1h-3zM825 777h4v32h-4zM866 743h3v1h-3zM865 736h4v7h-4zM874 756h3v1h-3zM874 786h3v1h-3zM873 757h4v29h-4zM882 771h3v1h-3zM882 802h3v1h-3zM881 772h4v30h-4zM922 761h3v1h-3zM921 736h4v25h-4zM946 772h3v1h-3zM945 736h4v36h-4zM978 741h3v1h-3zM978 790h3v1h-3zM977 742h4v48h-4zM1002 782h3v1h-3zM1002 817h3v1h-3zM1001 783h4v34h-4zM1010 791h3v1h-3zM1009 792h4v48h-4zM1018 815h3v1h-3zM1017 816h4v24h-4zM1042 773h3v1h-3zM1042 795h3v1h-3zM1041 774h4v21h-4zM1074 738h3v1h-3zM1074 792h3v1h-3zM1073 739h4v53h-4zM1082 762h3v1h-3zM1082 795h3v1h-3zM1081 763h4v32h-4zM1098 781h3v1h-3zM1098 812h3v1h-3zM1097 782h4v30h-4zM1106 773h3v1h-3zM1106 816h3v1h-3zM1105 774h4v42h-4zM1138 751h3v1h-3zM1138 766h3v1h-3zM1137 752h4v14h-4zM1154 767h3v1h-3zM1154 805h3v1h-3zM1153 768h4v37h-4zM1194 760h3v1h-3zM1194 796h3v1h-3zM1193 761h4v35h-4zM1218 776h3v1h-3zM1218 830h3v1h-3zM1217 777h4v53h-4zM1226 790h3v1h-3zM1226 826h3v1h-3zM1225 791h4v35h-4zM1234 793h3v1h-3zM1233 794h4v46h-4zM1250 799h3v1h-3zM1249 800h4v40h-4zM1290 756h3v1h-3zM1289 736h4v20h-4zM1322 744h3v1h-3zM1322 809h3v1h-3zM1321 745h4v64h-4zM1330 795h3v1h-3zM1330 826h3v1h-3zM1329 796h4v30h-4zM1362 758h3v1h-3zM1361 759h4v81h-4zM1370 800h3v1h-3zM1369 801h4v39h-4zM1378 796h3v1h-3zM1377 797h4v43h-4zM1386 817h3v1h-3zM1385 818h4v22h-4zM1394 796h3v1h-3zM1394 821h3v1h-3zM1393 797h4v24h-4zM1426 747h3v1h-3zM1426 781h3v1h-3zM1425 748h4v33h-4zM1434 772h3v1h-3zM1434 799h3v1h-3zM1433 773h4v26h-4zM1466 739h3v1h-3zM1466 785h3v1h-3zM1465 740h4v45h-4zM1482 769h3v1h-3zM1482 809h3v1h-3zM1481 770h4v39h-4zM1490 782h3v1h-3zM1489 783h4v57h-4zM1506 821h3v1h-3zM1505 822h4v18h-4zM1514 828h3v1h-3zM1513 829h4v11h-4zM1530 807h3v1h-3zM1530 837h3v1h-3zM1529 808h4v29h-4zM1538 789h3v1h-3zM1538 815h3v1h-3zM1537 790h4v25h-4zM1546 789h3v1h-3zM1545 790h4v50h-4zM1554 817h3v1h-3zM1553 818h4v22h-4zM1578 764h3v1h-3zM1578 778h3v1h-3zM1577 765h4v13h-4zM1586 754h3v1h-3zM1586 779h3v1h-3zM1585 755h4v24h-4zM1610 766h3v1h-3zM1610 790h3v1h-3zM1609 767h4v23h-4zM1626 751h3v1h-3zM1626 808h3v1h-3zM1625 752h4v56h-4zM1634 776h3v1h-3zM1634 835h3v1h-3zM1633 777h4v58h-4zM1642 793h3v1h-3zM1641 794h4v46h-4zM1650 799h3v1h-3zM1650 839h3v1h-3zM1649 800h4v39h-4zM1682 761h3v1h-3zM1682 778h3v1h-3zM1681 762h4v16h-4zM1690 771h3v1h-3zM1690 810h3v1h-3zM1689 772h4v38h-4zM1714 781h3v1h-3zM1714 833h3v1h-3zM1713 782h4v51h-4zM1722 789h3v1h-3zM1721 790h4v50h-4zM1738 802h3v1h-3zM1738 826h3v1h-3zM1737 803h4v23h-4zM1746 789h3v1h-3zM1746 830h3v1h-3zM1745 790h4v40h-4zM1754 780h3v1h-3zM1754 815h3v1h-3zM1753 781h4v34h-4zM1770 752h3v1h-3zM1770 798h3v1h-3zM1769 753h4v45h-4zM1778 776h3v1h-3zM1778 812h3v1h-3zM1777 777h4v35h-4zM1786 781h3v1h-3zM1786 836h3v1h-3zM1785 782h4v54h-4zM1802 797h3v1h-3zM1802 831h3v1h-3zM1801 798h4v33h-4zM1818 794h3v1h-3zM1817 795h4v45h-4zM1826 809h3v1h-3zM1826 839h3v1h-3zM1825 810h4v29h-4zM1842 776h3v1h-3zM1842 831h3v1h-3zM1841 777h4v54h-4z" fill="#ffa500"/>
<path d="M218 727h3v1h-3zM217 728h4v8h-4zM426 734h3v1h-3zM425 735h4v1h-4zM506 715h3v1h-3zM505 716h4v20h-4zM610 730h3v1h-3zM609 731h4v5h-4zM778 720h3v1h-3zM777 721h4v15h-4zM786 728h3v1h-3zM785 729h4v7h-4zM850 711h3v1h-3zM849 712h4v24h-4zM858 709h3v1h-3zM857 710h4v26h-4zM866 719h3v1h-3zM865 720h4v16h-4zM906 729h3v1h-3zM905 730h4v6h-4zM914 728h3v1h-3zM913 729h4v7h-4zM922 730h3v1h-3zM921 731h4v5h-4zM938 720h3v1h-3zM937 721h4v15h-4zM945 735h4v1h-4zM969 735h4v1h-4zM1057 735h4v1h-4zM1066 705h3v1h-3zM1065 706h4v30h-4zM1274 698h3v1h-3zM1273 699h4v37h-4zM1282 710h3v1h-3zM1281 711h4v25h-4zM1289 735h4v1h-4zM1314 711h3v1h-3zM1313 712h4v24h-4zM1458 732h3v1h-3zM1457 733h4v3h-4zM1666 733h3v1h-3zM1665 734h4v2h-4z" fill="#008000"/>
<path d="M58 843h3v1h-3zM57 840h4v3h-4zM106 901h3v1h-3zM105 840h4v61h-4zM114 874h3v1h-3zM113 840h4v34h-4zM122 850h3v1h-3zM121 840h4v10h-4zM322 860h3v1h-3zM321 840h4v20h-4zM330 856h3v1h-3zM329 840h4v16h-4zM570 843h3v1h-3zM569 840h4v3h-4zM578 843h3v1h-3zM577 840h4v3h-4zM586 845h3v1h-3zM585 840h4v5h-4zM594 856h3v1h-3zM593 840h4v16h-4zM602 858h3v1h-3zM601 840h4v18h-4zM690 851h3v1h-3zM689 840h4v11h-4zM1010 843h3v1h-3zM1009 840h4v3h-4zM1018 845h3v1h-3zM1017 840h4v5h-4zM1210 843h3v1h-3zM1209 840h4v3h-4zM1234 857h3v1h-3zM1233 840h4v17h-4zM1250 847h3v1h-3zM1249 840h4v7h-4zM1362 854h3v1h-3zM1361 840h4v14h-4zM1370 849h3v1h-3zM1369 840h4v9h-4zM1378 851h3v1h-3zM1377 840h4v11h-4zM1386 862h3v1h-3zM1385 840h4v22h-4zM1490 886h3v1h-3zM1489 840h4v46h-4zM1498 840h3v1h-3zM1498 874h3v1h-3zM1497 841h4v33h-4zM1506 866h3v1h-3zM1505 840h4v26h-4zM1514 864h3v1h-3zM1513 840h4v24h-4zM1546 844h3v1h-3zM1545 840h4v4h-4zM1554 847h3v1h-3zM1553 840h4v7h-4zM1642 862h3v1h-3zM1641 840h4v22h-4zM1722 896h3v1h-3zM1721 840h4v56h-4zM1730 858h3v1h-3zM1729 840h4v18h-4zM1818 843h3v1h-3zM1817 840h4v3h-4z" fill="#f00"/>
<path d="M3 201h1v10h-1zM4 207h2v1h-2zM11 203h1v10h-1zM9 207h2v1h-2zM12 207h2v1h-2zM19 189h1v21h-1zM17 207h2v1h-2zM20 208h2v1h-2zM27 203h1v11h-1zM25 208h2v1h-2zM28 203h2v1h-2zM35 199h1v10h-1zM33 203h2v1h-2zM36 204h2v1h-2zM43 199h1v8h-1zM41 204h2v1h-2zM44 202h2v1h-2zM51 200h1v26h-1zM49 202h2v1h-2zM52 222h2v1h-2zM59 210h1v20h-1zM57 222h2v1h-2zM60 212h2v1h-2zM67 209h1v8h-1zM65 212h2v1h-2zM68 212h2v1h-2zM75 209h1v11h-1zM73 212h2v1h-2zM76 211h2v1h-2zM83 206h1v13h-1zM81 211h2v1h-2zM84 215h2v1h-2zM91 210h1v12h-1zM89 214h2v1h-2zM92 215h2v1h-2zM99 212h1v17h-1zM97 215h2v1h-2zM100 225h2v1h-2zM107 224h1v68h-1zM105 225h2v1h-2zM108 264h2v1h-2zM115 263h1v46h-1zM113 264h2v1h-2zM116 293h2v1h-2zM123 282h1v29h-1zM121 293h2v1h-2zM124 290h2v1h-2zM131 263h1v37h-1zM129 290h2v1h-2zM132 265h2v1h-2zM139 265h1v20h-1zM137 265h2v1h-2zM140 276h2v1h-2zM147 268h1v18h-1zM145 276h2v1h-2zM148 285h2v1h-2zM155 256h1v29h-1zM153 284h2v1h-2zM156 262h2v1h-2zM163 252h1v19h-1zM161 262h2v1h-2zM164 269h2v1h-2zM171 257h1v15h-1zM169 269h2v1h-2zM172 270h2v1h-2zM179 255h1v19h-1zM177 270h2v1h-2zM180 261h2v1h-2zM187 249h1v21h-1zM185 261h2v1h-2zM188 265h2v1h-2zM195 259h1v29h-1zM193 265h2v1h-2zM196 281h2v1h-2zM203 253h1v30h-1zM201 282h2v1h-2zM204 260h2v1h-2zM211 224h1v51h-1zM209 261h2v1h-2zM212 224h2v1h-2zM219 207h1v23h-1zM217 224h2v1h-2zM220 217h2v1h-2zM227 209h1v31h-1zM225 217h2v1h-2zM228 219h2v1h-2zM235 194h1v33h-1zM233 218h2v1h-2zM236 218h2v1h-2zM243 203h1v61h-1zM241 217h2v1h-2zM244 260h2v1h-2zM251 231h1v32h-1zM249 260h2v1h-2zM252 235h2v1h-2zM259 229h1v18h-1zM257 236h2v1h-2zM260 238h2v1h-2zM267 229h1v15h-1zM265 238h2v1h-2zM268 235h2v1h-2zM275 231h1v15h-1zM273 234h2v1h-2zM276 242h2v1h-2zM283 228h1v29h-1zM281 242h2v1h-2zM284 240h2v1h-2zM291 220h1v23h-1zM289 239h2v1h-2zM292 225h2v1h-2zM299 218h1v16h-1zM297 224h2v1h-2zM300 233h2v1h-2zM307 213h1v54h-1zM305 229h2v1h-2zM308 265h2v1h-2zM315 256h1v17h-1zM313 265h2v1h-2zM316 270h2v1h-2zM323 264h1v41h-1zM321 268h2v1h-2zM324 295h2v1h-2zM331 289h1v29h-1zM329 295h2v1h-2zM332 307h2v1h-2zM339 288h1v22h-1zM337 307h2v1h-2zM340 302h2v1h-2zM347 283h1v33h-1zM345 303h2v1h-2zM348 285h2v1h-2zM355 278h1v24h-1zM353 285h2v1h-2zM356 301h2v1h-2zM363 292h1v35h-1zM361 301h2v1h-2zM364 326h2v1h-2zM371 313h1v14h-1zM369 325h2v1h-2zM372 313h2v1h-2zM379 313h1v17h-1zM377 313h2v1h-2zM380 322h2v1h-2zM387 317h1v11h-1zM385 322h2v1h-2zM388 327h2v1h-2zM395 320h1v10h-1zM393 327h2v1h-2zM396 323h2v1h-2zM403 311h1v17h-1zM401 324h2v1h-2zM404 315h2v1h-2zM411 308h1v10h-1zM409 315h2v1h-2zM412 310h2v1h-2zM419 310h1v10h-1zM417 310h2v1h-2zM420 312h2v1h-2zM427 300h1v16h-1zM425 312h2v1h-2zM428 308h2v1h-2zM435 297h1v14h-1zM433 308h2v1h-2zM436 302h2v1h-2zM443 301h1v13h-1zM441 302h2v1h-2zM444 304h2v1h-2zM451 300h1v15h-1zM449 304h2v1h-2zM452 311h2v1h-2zM459 305h1v9h-1zM457 311h2v1h-2zM460 313h2v1h-2zM467 311h1v12h-1zM465 312h2v1h-2zM468 318h2v1h-2zM475 312h1v14h-1zM473 318h2v1h-2zM476 320h2v1h-2zM483 304h1v20h-1zM481 320h2v1h-2zM484 314h2v1h-2zM491 311h1v20h-1zM489 314h2v1h-2zM492 317h2v1h-2zM499 291h1v31h-1zM497 317h2v1h-2zM500 294h2v1h-2zM507 265h1v34h-1zM505 294h2v1h-2zM508 281h2v1h-2zM515 274h1v16h-1zM513 281h2v1h-2zM516 287h2v1h-2zM523 280h1v16h-1zM521 288h2v1h-2zM524 291h2v1h-2zM531 284h1v11h-1zM529 291h2v1h-2zM532 294h2v1h-2zM539 281h1v15h-1zM537 294h2v1h-2zM540 282h2v1h-2zM547 275h1v12h-1zM545 282h2v1h-2zM548 281h2v1h-2zM555 276h1v9h-1zM553 281h2v1h-2zM556 284h2v1h-2zM563 282h1v13h-1zM561 284h2v1h-2zM564 288h2v1h-2zM571 284h1v23h-1zM569 288h2v1h-2zM572 301h2v1h-2zM579 295h1v14h-1zM577 301h2v1h-2zM580 304h2v1h-2zM587 301h1v15h-1zM585 303h2v1h-2zM588 313h2v1h-2zM595 311h1v22h-1zM593 314h2v1h-2zM596 322h2v1h-2zM603 322h1v22h-1zM601 322h2v1h-2zM604 323h2v1h-2zM611 280h1v47h-1zM609 324h2v1h-2zM612 293h2v1h-2zM619 287h1v34h-1zM617 293h2v1h-2zM620 316h2v1h-2zM627 316h1v24h-1zM625 316h2v1h-2zM628 330h2v1h-2zM635 329h1v37h-1zM633 330h2v1h-2zM636 339h2v1h-2zM643 311h1v34h-1zM641 340h2v1h-2zM644 323h2v1h-2zM651 319h1v25h-1zM649 323h2v1h-2zM652 341h2v1h-2zM659 334h1v20h-1zM657 342h2v1h-2zM660 339h2v1h-2zM667 320h1v20h-1zM665 339h2v1h-2zM668 326h2v1h-2zM675 323h1v24h-1zM673 326h2v1h-2zM676 336h2v1h-2zM683 332h1v20h-1zM681 336h2v1h-2zM684 350h2v1h-2zM691 340h1v39h-1zM689 350h2v1h-2zM692 360h2v1h-2zM699 347h1v24h-1zM697 359h2v1h-2zM700 358h2v1h-2zM707 330h1v29h-1zM705 357h2v1h-2zM708 340h2v1h-2zM715 308h1v36h-1zM713 341h2v1h-2zM716 321h2v1h-2zM723 317h1v38h-1zM721 320h2v1h-2zM724 345h2v1h-2zM731 318h1v30h-1zM729 345h2v1h-2zM732 319h2v1h-2zM739 312h1v12h-1zM737 319h2v1h-2zM740 316h2v1h-2zM747 310h1v21h-1zM745 316h2v1h-2zM748 327h2v1h-2zM755 313h1v16h-1zM753 327h2v1h-2zM756 314h2v1h-2zM763 307h1v19h-1zM761 313h2v1h-2zM764 317h2v1h-2zM771 296h1v22h-1zM769 317h2v1h-2zM772 297h2v1h-2zM779 275h1v29h-1zM777 297h2v1h-2zM780 281h2v1h-2zM787 274h1v12h-1zM785 280h2v1h-2zM788 285h2v1h-2zM795 272h1v16h-1zM793 285h2v1h-2zM796 274h2v1h-2zM803 272h1v12h-1zM801 274h2v1h-2zM804 274h2v1h-2zM811 271h1v18h-1zM809 274h2v1h-2zM812 284h2v1h-2zM819 260h1v33h-1zM817 284h2v1h-2zM820 274h2v1h-2zM827 274h1v16h-1zM825 277h2v1h-2zM828 281h2v1h-2zM835 276h1v14h-1zM833 281h2v1h-2zM836 278h2v1h-2zM843 257h1v22h-1zM841 278h2v1h-2zM844 261h2v1h-2zM851 218h1v51h-1zM849 261h2v1h-2zM852 227h2v1h-2zM859 208h1v27h-1zM857 227h2v1h-2zM860 209h2v1h-2zM867 200h1v15h-1zM865 209h2v1h-2zM868 212h2v1h-2zM875 211h1v20h-1zM873 212h2v1h-2zM876 220h2v1h-2zM883 212h1v21h-1zM881 220h2v1h-2zM884 230h2v1h-2zM891 221h1v14h-1zM889 230h2v1h-2zM892 223h2v1h-2zM899 216h1v10h-1zM897 223h2v1h-2zM900 218h2v1h-2zM907 191h1v31h-1zM905 218h2v1h-2zM908 192h2v1h-2zM915 187h1v14h-1zM913 192h2v1h-2zM916 190h2v1h-2zM923 185h1v12h-1zM921 190h2v1h-2zM924 192h2v1h-2zM931 178h1v19h-1zM929 192h2v1h-2zM932 178h2v1h-2zM939 153h1v31h-1zM937 179h2v1h-2zM940 158h2v1h-2zM947 156h1v18h-1zM945 158h2v1h-2zM948 172h2v1h-2zM955 165h1v10h-1zM953 172h2v1h-2zM956 168h2v1h-2zM963 143h1v30h-1zM961 169h2v1h-2zM964 158h2v1h-2zM971 129h1v36h-1zM969 158h2v1h-2zM972 129h2v1h-2zM979 128h1v30h-1zM977 128h2v1h-2zM980 155h2v1h-2zM987 148h1v22h-1zM985 156h2v1h-2zM988 152h2v1h-2zM995 131h1v25h-1zM993 152h2v1h-2zM996 152h2v1h-2zM1003 146h1v25h-1zM1001 153h2v1h-2zM1004 163h2v1h-2zM1011 158h1v33h-1zM1009 163h2v1h-2zM1012 190h2v1h-2zM1019 183h1v19h-1zM1017 192h2v1h-2zM1020 198h2v1h-2zM1027 189h1v15h-1zM1025 198h2v1h-2zM1028 189h2v1h-2zM1035 175h1v17h-1zM1033 189h2v1h-2zM1036 180h2v1h-2zM1043 180h1v11h-1zM1041 180h2v1h-2zM1044 188h2v1h-2zM1051 182h1v13h-1zM1049 188h2v1h-2zM1052 185h2v1h-2zM1059 166h1v21h-1zM1057 185h2v1h-2zM1060 167h2v1h-2zM1067 140h1v29h-1zM1065 167h2v1h-2zM1068 148h2v1h-2zM1075 148h1v27h-1zM1073 148h2v1h-2zM1076 164h2v1h-2zM1083 155h1v18h-1zM1081 164h2v1h-2zM1084 170h2v1h-2zM1091 157h1v14h-1zM1089 169h2v1h-2zM1092 159h2v1h-2zM1099 159h1v16h-1zM1097 159h2v1h-2zM1100 173h2v1h-2zM1107 158h1v21h-1zM1105 173h2v1h-2zM1108 176h2v1h-2zM1115 165h1v21h-1zM1113 177h2v1h-2zM1116 172h2v1h-2zM1123 159h1v14h-1zM1121 172h2v1h-2zM1124 160h2v1h-2zM1131 147h1v18h-1zM1129 160h2v1h-2zM1132 151h2v1h-2zM1139 149h1v6h-1zM1137 151h2v1h-2zM1140 152h2v1h-2zM1147 145h1v10h-1zM1145 152h2v1h-2zM1148 150h2v1h-2zM1155 150h1v11h-1zM1153 150h2v1h-2zM1156 160h2v1h-2zM1163 153h1v10h-1zM1161 161h2v1h-2zM1164 154h2v1h-2zM1171 147h1v12h-1zM1169 154h2v1h-2zM1172 151h2v1h-2zM1179 145h1v10h-1zM1177 151h2v1h-2zM1180 147h2v1h-2zM1187 143h1v7h-1zM1185 147h2v1h-2zM1188 147h2v1h-2zM1195 145h1v9h-1zM1193 147h2v1h-2zM1196 149h2v1h-2zM1203 148h1v8h-1zM1201 150h2v1h-2zM1204 150h2v1h-2zM1211 144h1v23h-1zM1209 150h2v1h-2zM1212 149h2v1h-2zM1219 148h1v17h-1zM1217 148h2v1h-2zM1220 160h2v1h-2zM1227 155h1v12h-1zM1225 160h2v1h-2zM1228 165h2v1h-2zM1235 162h1v27h-1zM1233 165h2v1h-2zM1236 183h2v1h-2zM1243 174h1v11h-1zM1241 183h2v1h-2zM1244 182h2v1h-2zM1251 177h1v21h-1zM1249 182h2v1h-2zM1252 193h2v1h-2zM1259 166h1v32h-1zM1257 193h2v1h-2zM1260 171h2v1h-2zM1267 149h1v26h-1zM1265 171h2v1h-2zM1268 157h2v1h-2zM1275 102h1v56h-1zM1273 157h2v1h-2zM1276 111h2v1h-2zM1283 85h1v30h-1zM1281 110h2v1h-2zM1284 93h2v1h-2zM1291 88h1v19h-1zM1289 93h2v1h-2zM1292 102h2v1h-2zM1299 93h1v12h-1zM1297 102h2v1h-2zM1300 102h2v1h-2zM1307 81h1v23h-1zM1305 102h2v1h-2zM1308 93h2v1h-2zM1315 35h1v60h-1zM1313 93h2v1h-2zM1316 53h2v1h-2zM1323 49h1v55h-1zM1321 53h2v1h-2zM1324 99h2v1h-2zM1331 95h1v28h-1zM1329 99h2v1h-2zM1332 107h2v1h-2zM1339 97h1v17h-1zM1337 107h2v1h-2zM1340 104h2v1h-2zM1347 92h1v22h-1zM1345 103h2v1h-2zM1348 94h2v1h-2zM1355 88h1v16h-1zM1353 94h2v1h-2zM1356 94h2v1h-2zM1363 83h1v76h-1zM1361 93h2v1h-2zM1364 147h2v1h-2zM1371 128h1v44h-1zM1369 147h2v1h-2zM1372 151h2v1h-2zM1379 139h1v63h-1zM1377 151h2v1h-2zM1380 198h2v1h-2zM1387 194h1v55h-1zM1385 198h2v1h-2zM1388 214h2v1h-2zM1395 188h1v34h-1zM1393 214h2v1h-2zM1396 220h2v1h-2zM1403 185h1v36h-1zM1401 220h2v1h-2zM1404 191h2v1h-2zM1411 184h1v33h-1zM1409 191h2v1h-2zM1412 185h2v1h-2zM1419 150h1v36h-1zM1417 184h2v1h-2zM1420 158h2v1h-2zM1427 155h1v28h-1zM1425 158h2v1h-2zM1428 176h2v1h-2zM1435 173h1v20h-1zM1433 175h2v1h-2zM1436 180h2v1h-2zM1443 155h1v26h-1zM1441 180h2v1h-2zM1444 158h2v1h-2zM1451 146h1v24h-1zM1449 159h2v1h-2zM1452 150h2v1h-2zM1459 128h1v30h-1zM1457 151h2v1h-2zM1460 130h2v1h-2zM1467 126h1v31h-1zM1465 130h2v1h-2zM1468 152h2v1h-2zM1475 133h1v20h-1zM1473 152h2v1h-2zM1476 137h2v1h-2zM1483 134h1v27h-1zM1481 137h2v1h-2zM1484 152h2v1h-2zM1491 152h1v118h-1zM1489 152h2v1h-2zM1492 258h2v1h-2zM1499 253h1v27h-1zM1497 258h2v1h-2zM1500 256h2v1h-2zM1507 255h1v57h-1zM1505 256h2v1h-2zM1508 310h2v1h-2zM1515 308h1v50h-1zM1513 310h2v1h-2zM1516 353h2v1h-2zM1523 333h1v21h-1zM1521 353h2v1h-2zM1524 336h2v1h-2zM1531 333h1v28h-1zM1529 336h2v1h-2zM1532 341h2v1h-2zM1539 332h1v23h-1zM1537 340h2v1h-2zM1540 351h2v1h-2zM1547 350h1v47h-1zM1545 351h2v1h-2zM1548 382h2v1h-2zM1555 381h1v21h-1zM1553 381h2v1h-2zM1556 397h2v1h-2zM1563 372h1v39h-1zM1561 397h2v1h-2zM1564 376h2v1h-2zM1571 349h1v29h-1zM1569 376h2v1h-2zM1572 363h2v1h-2zM1579 360h1v10h-1zM1577 363h2v1h-2zM1580 363h2v1h-2zM1587 356h1v14h-1zM1585 364h2v1h-2zM1588 367h2v1h-2zM1595 364h1v24h-1zM1593 367h2v1h-2zM1596 364h2v1h-2zM1603 360h1v12h-1zM1601 364h2v1h-2zM1604 362h2v1h-2zM1611 359h1v8h-1zM1609 361h2v1h-2zM1612 362h2v1h-2zM1619 350h1v16h-1zM1617 362h2v1h-2zM1620 350h2v1h-2zM1627 350h1v23h-1zM1625 350h2v1h-2zM1628 371h2v1h-2zM1635 359h1v25h-1zM1633 371h2v1h-2zM1636 375h2v1h-2zM1643 372h1v39h-1zM1641 375h2v1h-2zM1644 386h2v1h-2zM1651 383h1v27h-1zM1649 387h2v1h-2zM1652 400h2v1h-2zM1659 371h1v30h-1zM1657 400h2v1h-2zM1660 377h2v1h-2zM1667 335h1v43h-1zM1665 377h2v1h-2zM1668 363h2v1h-2zM1675 351h1v24h-1zM1673 363h2v1h-2zM1676 354h2v1h-2zM1683 354h1v12h-1zM1681 354h2v1h-2zM1684 356h2v1h-2zM1691 356h1v26h-1zM1689 356h2v1h-2zM1692 378h2v1h-2zM1699 368h1v19h-1zM1697 379h2v1h-2zM1700 375h2v1h-2zM1707 353h1v25h-1zM1705 375h2v1h-2zM1708 369h2v1h-2zM1715 367h1v28h-1zM1713 369h2v1h-2zM1716 392h2v1h-2zM1723 391h1v112h-1zM1721 392h2v1h-2zM1724 488h2v1h-2zM1731 451h1v39h-1zM1729 487h2v1h-2zM1732 451h2v1h-2zM1739 443h1v27h-1zM1737 452h2v1h-2zM1740 454h2v1h-2zM1747 450h1v53h-1zM1745 455h2v1h-2zM1748 463h2v1h-2zM1755 456h1v50h-1zM1753 463h2v1h-2zM1756 489h2v1h-2zM1763 436h1v72h-1zM1761 489h2v1h-2zM1764 446h2v1h-2zM1771 421h1v59h-1zM1769 446h2v1h-2zM1772 476h2v1h-2zM1779 456h1v51h-1zM1777 476h2v1h-2zM1780 500h2v1h-2zM1787 470h1v90h-1zM1785 500h2v1h-2zM1788 554h2v1h-2zM1795 532h1v25h-1zM1793 553h2v1h-2zM1796 536h2v1h-2zM1803 522h1v46h-1zM1801 536h2v1h-2zM1804 560h2v1h-2zM1811 534h1v32h-1zM1809 560h2v1h-2zM1812 560h2v1h-2zM1819 558h1v62h-1zM1817 560h2v1h-2zM1820 603h2v1h-2zM1827 589h1v30h-1zM1825 602h2v1h-2zM1828 609h2v1h-2zM1835 588h1v40h-1zM1833 608h2v1h-2zM1836 589h2v1h-2zM1843 579h1v64h-1zM1841 589h2v1h-2zM1844 642h2v1h-2zM1851 629h1v26h-1zM1849 642h2v1h-2zM1852 634h2v1h-2zM1859 614h1v24h-1zM1857 634h2v1h-2zM1860 620h2v1h-2z" fill="#0f0"/>
<path d="M1811 562h1v1h-1zM1819 562h1v2h-1zM1819 568h1v3h-1z" fill="#000"/>
</g>
<text x="1727.6" y="540.0" font-size="19.2px" style="fill:#00f">Time: 00:07:5</text>
<path transform="translate(1844.99 540.0) scale(0.00937 -0.00937)" d="M763 0H583V1147Q518 1085 412.5 1023Q307 961 223 930V1104Q374 1175 487 1276Q600 1377 647 1472H763Z" fill="#00f"/>
<g shape-rendering="crispEdges">
<path d="M2 2h1860v1h-1860zM2 2h1v669h-1zM1861 2h1v669h-1zM2 670h1860v1h-1860zM2 672h1860v1h-1860zM2 672h1v231h-1zM1861 672h1v231h-1zM2 902h1860v1h-1860zM1862 7h2v1h-2zM1862 40h2v1h-2zM1862 73h2v1h-2zM1862 106h2v1h-2zM1862 139h2v1h-2zM1862 172h2v1h-2zM1862 205h2v1h-2zM1862 238h2v1h-2zM1862 271h2v1h-2zM1862 304h2v1h-2zM1862 337h2v1h-2zM1862 370h2v1h-2zM1862 403h2v1h-2zM1862 436h2v1h-2zM1862 469h2v1h-2zM1862 502h2v1h-2zM1862 535h2v1h-2zM1862 568h2v1h-2zM1862 601h2v1h-2zM1862 634h2v1h-2zM1862 667h2v1h-2zM1862 674h1v1h-1zM1862 727h1v1h-1zM1862 787h1v1h-1zM1862 848h1v1h-1zM1862 901h1v1h-1zM3 903h1v3h-1zM67 903h1v3h-1zM131 903h1v3h-1zM195 903h1v3h-1zM259 903h1v3h-1zM323 903h1v3h-1zM387 903h1v3h-1zM451 903h1v3h-1zM515 903h1v3h-1zM579 903h1v3h-1zM643 903h1v3h-1zM707 903h1v3h-1zM771 903h1v3h-1zM835 903h1v3h-1zM899 903h1v3h-1zM963 903h1v3h-1zM1027 903h1v3h-1zM1091 903h1v3h-1zM1155 903h1v3h-1zM1219 903h1v3h-1zM1283 903h1v3h-1zM1347 903h1v3h-1zM1411 903h1v3h-1zM1475 903h1v3h-1zM1539 903h1v3h-1zM1603 903h1v3h-1zM1667 903h1v3h-1zM1731 903h1v3h-1zM1795 903h1v3h-1zM1859 903h1v3h-1z" fill="#fff"/>
<path d="M6 9h7v1h-7zM7 10h5v1h-5zM8 11h3v1h-3zM9 12h1v1h-1z" fill="#fff"/>
<path d="M1863 728h36v11h-36z" fill="#008000"/>
</g>
<g shape-rendering="crispEdges"><path d="M106 291h1v1h-1zM105 292h3v1h-3zM104 293h5v1h-5zM103 294h7v1h-7zM102 295h9v1h-9zM101 296h11v1h-11zM101 297h11v1h-11zM101 298h3v1h-3zM105 298h3v1h-3zM109 298h3v1h-3zM101 299h2v1h-2zM105 299h3v1h-3zM110 299h2v1h-2zM101 300h1v1h-1zM105 300h3v1h-3zM111 300h1v1h-1zM105 301h3v1h-3zM105 302h3v1h-3zM105 303h3v1h-3zM105 304h3v1h-3zM242 264h1v1h-1zM241 265h3v1h-3zM240 266h5v1h-5zM239 267h7v1h-7zM238 268h9v1h-9zM237 269h11v1h-11zM237 270h11v1h-11zM237 271h3v1h-3zM241 271h3v1h-3zM245 271h3v1h-3zM237 272h2v1h-2zM241 272h3v1h-3zM246 272h2v1h-2zM237 273h1v1h-1zM241 273h3v1h-3zM247 273h1v1h-1zM241 274h3v1h-3zM241 275h3v1h-3zM241 276h3v1h-3zM241 277h3v1h-3zM602 343h1v1h-1zM601 344h3v1h-3zM600 345h5v1h-5zM599 346h7v1h-7zM598 347h9v1h-9zM597 348h11v1h-11zM597 349h11v1h-11zM597 350h3v1h-3zM601 350h3v1h-3zM605 350h3v1h-3zM597 351h2v1h-2zM601 351h3v1h-3zM606 351h2v1h-2zM597 352h1v1h-1zM601 352h3v1h-3zM607 352h1v1h-1zM601 353h3v1h-3zM601 354h3v1h-3zM601 355h3v1h-3zM601 356h3v1h-3zM690 379h1v1h-1zM689 380h3v1h-3zM688 381h5v1h-5zM687 382h7v1h-7zM686 383h9v1h-9zM685 384h11v1h-11zM685 385h11v1h-11zM685 386h3v1h-3zM689 386h3v1h-3zM693 386h3v1h-3zM685 387h2v1h-2zM689 387h3v1h-3zM694 387h2v1h-2zM685 388h1v1h-1zM689 388h3v1h-3zM695 388h1v1h-1zM689 389h3v1h-3zM689 390h3v1h-3zM689 391h3v1h-3zM689 392h3v1h-3zM1010 190h1v1h-1zM1009 191h3v1h-3zM1008 192h5v1h-5zM1007 193h7v1h-7zM1006 194h9v1h-9zM1005 195h11v1h-11zM1005 196h11v1h-11zM1005 197h3v1h-3zM1009 197h3v1h-3zM1013 197h3v1h-3zM1005 198h2v1h-2zM1009 198h3v1h-3zM1014 198h2v1h-2zM1005 199h1v1h-1zM1009 199h3v1h-3zM1015 199h1v1h-1zM1009 200h3v1h-3zM1009 201h3v1h-3zM1009 202h3v1h-3zM1009 203h3v1h-3zM1362 158h1v1h-1zM1361 159h3v1h-3zM1360 160h5v1h-5zM1359 161h7v1h-7zM1358 162h9v1h-9zM1357 163h11v1h-11zM1357 164h11v1h-11zM1357 165h3v1h-3zM1361 165h3v1h-3zM1365 165h3v1h-3zM1357 166h2v1h-2zM1361 166h3v1h-3zM1366 166h2v1h-2zM1357 167h1v1h-1zM1361 167h3v1h-3zM1367 167h1v1h-1zM1361 168h3v1h-3zM1361 169h3v1h-3zM1361 170h3v1h-3zM1361 171h3v1h-3zM1386 248h1v1h-1zM1385 249h3v1h-3zM1384 250h5v1h-5zM1383 251h7v1h-7zM1382 252h9v1h-9zM1381 253h11v1h-11zM1381 254h11v1h-11zM1381 255h3v1h-3zM1385 255h3v1h-3zM1389 255h3v1h-3zM1381 256h2v1h-2zM1385 256h3v1h-3zM1390 256h2v1h-2zM1381 257h1v1h-1zM1385 257h3v1h-3zM1391 257h1v1h-1zM1385 258h3v1h-3zM1385 259h3v1h-3zM1385 260h3v1h-3zM1385 261h3v1h-3zM1490 269h1v1h-1zM1489 270h3v1h-3zM1488 271h5v1h-5zM1487 272h7v1h-7zM1486 273h9v1h-9zM1485 274h11v1h-11zM1485 275h11v1h-11zM1485 276h3v1h-3zM1489 276h3v1h-3zM1493 276h3v1h-3zM1485 277h2v1h-2zM1489 277h3v1h-3zM1494 277h2v1h-2zM1485 278h1v1h-1zM1489 278h3v1h-3zM1495 278h1v1h-1zM1489 279h3v1h-3zM1489 280h3v1h-3zM1489 281h3v1h-3zM1489 282h3v1h-3zM1722 502h1v1h-1zM1721 503h3v1h-3zM1720 504h5v1h-5zM1719 505h7v1h-7zM1718 506h9v1h-9zM1717 507h11v1h-11zM1717 508h11v1h-11zM1717 509h3v1h-3zM1721 509h3v1h-3zM1725 509h3v1h-3zM1717 510h2v1h-2zM1721 510h3v1h-3zM1726 510h2v1h-2zM1717 511h1v1h-1zM1721 511h3v1h-3zM1727 511h1v1h-1zM1721 512h3v1h-3zM1721 513h3v1h-3zM1721 514h3v1h-3zM1721 515h3v1h-3z" fill="#00f"/><path d="M611 279h1v1h-1zM610 278h3v1h-3zM609 277h5v1h-5zM608 276h7v1h-7zM607 275h9v1h-9zM606 274h11v1h-11zM606 273h3v1h-3zM610 273h3v1h-3zM614 273h3v1h-3zM606 272h2v1h-2zM610 272h3v1h-3zM615 272h2v1h-2zM606 271h1v1h-1zM610 271h3v1h-3zM616 271h1v1h-1zM610 270h3v1h-3zM610 269h3v1h-3zM610 268h3v1h-3zM610 267h3v1h-3zM1259 165h1v1h-1zM1258 164h3v1h-3zM1257 163h5v1h-5zM1256 162h7v1h-7zM1255 161h9v1h-9zM1254 160h11v1h-11zM1254 159h3v1h-3zM1258 159h3v1h-3zM1262 159h3v1h-3zM1254 158h2v1h-2zM1258 158h3v1h-3zM1263 158h2v1h-2zM1254 157h1v1h-1zM1258 157h3v1h-3zM1264 157h1v1h-1zM1258 156h3v1h-3zM1258 155h3v1h-3zM1258 154h3v1h-3zM1258 153h3v1h-3zM1275 101h1v1h-1zM1274 100h3v1h-3zM1273 99h5v1h-5zM1272 98h7v1h-7zM1271 97h9v1h-9zM1270 96h11v1h-11zM1270 95h3v1h-3zM1274 95h3v1h-3zM1278 95h3v1h-3zM1270 94h2v1h-2zM1274 94h3v1h-3zM1279 94h2v1h-2zM1270 93h1v1h-1zM1274 93h3v1h-3zM1280 93h1v1h-1zM1274 92h3v1h-3zM1274 91h3v1h-3zM1274 90h3v1h-3zM1274 89h3v1h-3z" fill="#f00"/></g>
<path transform="translate(107.5 317.2)" d="M0 1L8 8.4H3.5V19.2H-3.5V8.4H-8z" fill="none" stroke="#fff" stroke-width="1.2"/>
<path transform="translate(603.5 372.2)" d="M0 1L8 8.4H3.5V19.2H-3.5V8.4H-8z" fill="none" stroke="#fff" stroke-width="1.2"/>
<path transform="translate(691.5 414.2)" d="M0 1L8 8.4H3.5V19.2H-3.5V8.4H-8z" fill="none" stroke="#fff" stroke-width="1.2"/>
<path transform="translate(1011.5 216.2)" d="M0 1L8 8.4H3.5V19.2H-3.5V8.4H-8z" fill="none" stroke="#fff" stroke-width="1.2"/>
<path transform="translate(1363.5 199.2)" d="M0 1L8 8.4H3.5V19.2H-3.5V8.4H-8z" fill="none" stroke="#fff" stroke-width="1.2"/>
<path transform="translate(1387.5 270.2)" d="M0 1L8 8.4H3.5V19.2H-3.5V8.4H-8z" fill="none" stroke="#fff" stroke-width="1.2"/>
<path transform="translate(1491.5 310.2)" d="M0 1L8 8.4H3.5V19.2H-3.5V8.4H-8z" fill="none" stroke="#fff" stroke-width="1.2"/>
<path transform="translate(1723.5 527.2)" d="M0 1L8 8.4H3.5V19.2H-3.5V8.4H-8z" fill="none" stroke="#fff" stroke-width="1.2"/>
<path transform="translate(610.5 235.6)" d="M-3.5 0H3.5V10.7H8L0 17.7L-8 10.7H-3.5z" fill="none" stroke="#fff" stroke-width="1.2"/>
<path transform="translate(1274.5 65.6)" d="M-3.5 0H3.5V10.7H8L0 17.7L-8 10.7H-3.5z" fill="none" stroke="#fff" stroke-width="1.2"/>
<text class="s" x="788.5" y="50.6" font-size="28px" textLength="397.5" lengthAdjust="spacingAndGlyphs">Volume Arrows with Value Chart</text>
<text class="s" x="83" y="623.7" font-size="28px" textLength="368" lengthAdjust="spacingAndGlyphs">ForexStrategiesResources.com</text>
<text class="s" x="93.2" y="367.9" font-size="16.2px" textLength="27.6" lengthAdjust="spacingAndGlyphs">Buy</text>
<text class="s" x="589.3" y="418.8" font-size="16.2px" textLength="27.6" lengthAdjust="spacingAndGlyphs">Buy</text>
<text class="s" x="677.3" y="462.1" font-size="16.2px" textLength="27.6" lengthAdjust="spacingAndGlyphs">Buy</text>
<text class="s" x="997.5" y="266" font-size="16.2px" textLength="27.6" lengthAdjust="spacingAndGlyphs">Buy</text>
<text class="s" x="1349.4" y="242.5" font-size="16.2px" textLength="27.6" lengthAdjust="spacingAndGlyphs">Buy</text>
<text class="s" x="1373.3" y="321" font-size="16.2px" textLength="27.6" lengthAdjust="spacingAndGlyphs">Buy</text>
<text class="s" x="1709.5" y="577.3" font-size="16.2px" textLength="27.6" lengthAdjust="spacingAndGlyphs">Buy</text>
<text class="s" x="1255" y="45.3" font-size="16.2px" textLength="25.6" lengthAdjust="spacingAndGlyphs">Sell</text>
<text class="t" x="17.3" y="13.5" textLength="204.5" lengthAdjust="spacingAndGlyphs" xml:space="preserve">GBPJPY,M30  154.975 155.100 154.848 155.039</text>
<text class="t" x="6.8" y="684.5" textLength="256" lengthAdjust="spacingAndGlyphs">Nice Value Chart RID:11986 -5.3394 -4.2487 -6.4476 -4.7810</text>
<text class="t" x="1867.3" y="10.6" textLength="32.7" lengthAdjust="spacingAndGlyphs">164.180</text>
<text class="t" x="1867.3" y="43.6" textLength="32.7" lengthAdjust="spacingAndGlyphs">163.830</text>
<text class="t" x="1867.3" y="76.6" textLength="32.7" lengthAdjust="spacingAndGlyphs">163.470</text>
<text class="t" x="1867.3" y="109.6" textLength="32.7" lengthAdjust="spacingAndGlyphs">163.110</text>
<text class="t" x="1867.3" y="142.6" textLength="32.7" lengthAdjust="spacingAndGlyphs">162.760</text>
<text class="t" x="1867.3" y="175.6" textLength="32.7" lengthAdjust="spacingAndGlyphs">162.400</text>
<text class="t" x="1867.3" y="208.6" textLength="32.7" lengthAdjust="spacingAndGlyphs">162.050</text>
<text class="t" x="1867.3" y="241.6" textLength="32.7" lengthAdjust="spacingAndGlyphs">161.690</text>
<text class="t" x="1867.3" y="274.6" textLength="32.7" lengthAdjust="spacingAndGlyphs">161.340</text>
<text class="t" x="1867.3" y="307.6" textLength="32.7" lengthAdjust="spacingAndGlyphs">160.980</text>
<text class="t" x="1867.3" y="340.6" textLength="32.7" lengthAdjust="spacingAndGlyphs">160.620</text>
<text class="t" x="1867.3" y="373.6" textLength="32.7" lengthAdjust="spacingAndGlyphs">160.270</text>
<text class="t" x="1867.3" y="406.6" textLength="32.7" lengthAdjust="spacingAndGlyphs">159.910</text>
<text class="t" x="1867.3" y="439.6" textLength="32.7" lengthAdjust="spacingAndGlyphs">159.560</text>
<text class="t" x="1867.3" y="472.6" textLength="32.7" lengthAdjust="spacingAndGlyphs">159.200</text>
<text class="t" x="1867.3" y="505.6" textLength="32.7" lengthAdjust="spacingAndGlyphs">158.850</text>
<text class="t" x="1867.3" y="538.6" textLength="32.7" lengthAdjust="spacingAndGlyphs">158.490</text>
<text class="t" x="1867.3" y="571.6" textLength="32.7" lengthAdjust="spacingAndGlyphs">158.130</text>
<text class="t" x="1867.3" y="604.6" textLength="32.7" lengthAdjust="spacingAndGlyphs">157.780</text>
<text class="t" x="1867.3" y="637.6" textLength="32.7" lengthAdjust="spacingAndGlyphs">157.420</text>
<text class="t" x="1867.3" y="670.6" textLength="32.7" lengthAdjust="spacingAndGlyphs">157.070</text>
<text class="t" x="1864.7" y="682.6" textLength="10" lengthAdjust="spacingAndGlyphs">15</text>
<text class="t" x="1864.4" y="730.6" textLength="5" lengthAdjust="spacingAndGlyphs">8</text>
<text class="t" x="1864.8" y="790.6" textLength="17.7" lengthAdjust="spacingAndGlyphs">0.00</text>
<text class="t" x="1864" y="851.6" textLength="8" lengthAdjust="spacingAndGlyphs">-8</text>
<text class="t" x="1864.7" y="898.6" textLength="13" lengthAdjust="spacingAndGlyphs">-15</text>
<g shape-rendering="crispEdges"><path d="M1863 728h36v11h-36z" fill="#008000"/><path d="M1863 835h39v11h-39z" fill="#f00"/></g>
<text class="t k" x="1866.8" y="736.6" textLength="27.7" lengthAdjust="spacingAndGlyphs">7.0000</text>
<text class="t k" x="1867.2" y="843.6" textLength="30.7" lengthAdjust="spacingAndGlyphs">-7.0000</text>
<text class="t" style="font-size:9.65px;stroke-width:.15px" x="1.8" y="914.5">25 May 2016</text>
<text class="t" style="font-size:9.65px;stroke-width:.15px" x="65.8" y="914.5">26 May 00:30</text>
<text class="t" style="font-size:9.65px;stroke-width:.15px" x="129.8" y="914.5">26 May 04:30</text>
<text class="t" style="font-size:9.65px;stroke-width:.15px" x="193.8" y="914.5">26 May 08:30</text>
<text class="t" style="font-size:9.65px;stroke-width:.15px" x="257.8" y="914.5">26 May 12:30</text>
<text class="t" style="font-size:9.65px;stroke-width:.15px" x="321.8" y="914.5">26 May 16:30</text>
<text class="t" style="font-size:9.65px;stroke-width:.15px" x="385.8" y="914.5">26 May 20:30</text>
<text class="t" style="font-size:9.65px;stroke-width:.15px" x="449.8" y="914.5">27 May 00:30</text>
<text class="t" style="font-size:9.65px;stroke-width:.15px" x="513.8" y="914.5">27 May 04:30</text>
<text class="t" style="font-size:9.65px;stroke-width:.15px" x="577.8" y="914.5">27 May 08:30</text>
<text class="t" style="font-size:9.65px;stroke-width:.15px" x="641.8" y="914.5">27 May 12:30</text>
<text class="t" style="font-size:9.65px;stroke-width:.15px" x="705.8" y="914.5">27 May 16:30</text>
<text class="t" style="font-size:9.65px;stroke-width:.15px" x="769.8" y="914.5">27 May 20:30</text>
<text class="t" style="font-size:9.65px;stroke-width:.15px" x="833.8" y="914.5">30 May 00:30</text>
<text class="t" style="font-size:9.65px;stroke-width:.15px" x="897.8" y="914.5">30 May 04:30</text>
<text class="t" style="font-size:9.65px;stroke-width:.15px" x="961.8" y="914.5">30 May 08:30</text>
<text class="t" style="font-size:9.65px;stroke-width:.15px" x="1025.8" y="914.5">30 May 12:30</text>
<text class="t" style="font-size:9.65px;stroke-width:.15px" x="1089.8" y="914.5">30 May 16:30</text>
<text class="t" style="font-size:9.65px;stroke-width:.15px" x="1153.8" y="914.5">30 May 20:30</text>
<text class="t" style="font-size:9.65px;stroke-width:.15px" x="1217.8" y="914.5">31 May 00:30</text>
<text class="t" style="font-size:9.65px;stroke-width:.15px" x="1281.8" y="914.5">31 May 04:30</text>
<text class="t" style="font-size:9.65px;stroke-width:.15px" x="1345.8" y="914.5">31 May 08:30</text>
<text class="t" style="font-size:9.65px;stroke-width:.15px" x="1409.8" y="914.5">31 May 12:30</text>
<text class="t" style="font-size:9.65px;stroke-width:.15px" x="1473.8" y="914.5">31 May 16:30</text>
<text class="t" style="font-size:9.65px;stroke-width:.15px" x="1537.8" y="914.5">31 May 20:30</text>
<text class="t" style="font-size:9.65px;stroke-width:.15px" x="1601.8" y="914.5">1 Jun 00:30</text>
<text class="t" style="font-size:9.65px;stroke-width:.15px" x="1665.8" y="914.5">1 Jun 04:30</text>
<text class="t" style="font-size:9.65px;stroke-width:.15px" x="1729.8" y="914.5">1 Jun 08:30</text>
<text class="t" style="font-size:9.65px;stroke-width:.15px" x="1793.8" y="914.5">1 Jun 12:30</text>
<text class="t" style="font-size:9.65px;stroke-width:.15px" x="1857.8" y="914.5">1 Jun 16:30</text>
</svg></body></html>
